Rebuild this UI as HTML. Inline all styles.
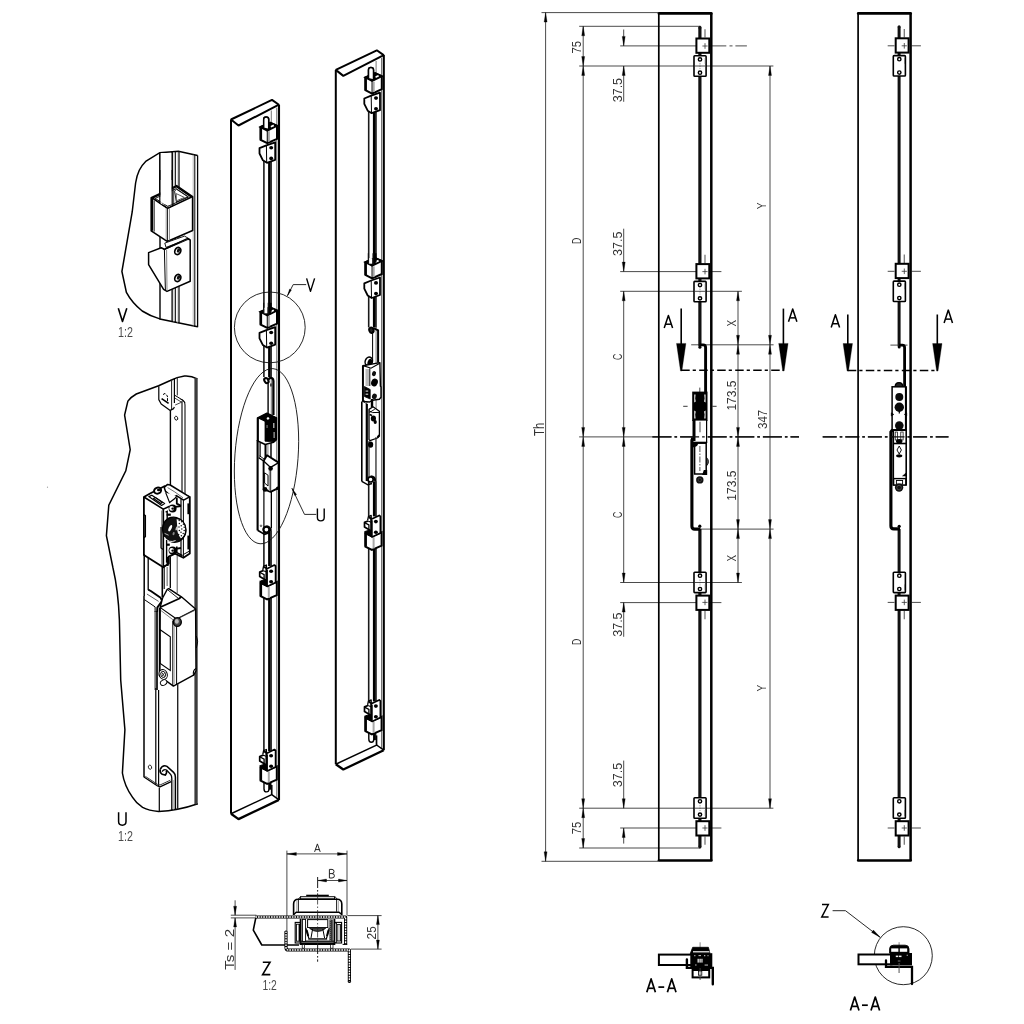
<!DOCTYPE html>
<html><head><meta charset="utf-8"><title>drawing</title>
<style>
html,body{margin:0;padding:0;background:#fff;}
svg{display:block;font-family:"Liberation Sans",sans-serif;filter:grayscale(1);}
</style></head><body>
<svg width="1024" height="1024" viewBox="0 0 1024 1024" stroke-linecap="butt" stroke-linejoin="miter">
<rect x="0" y="0" width="1024" height="1024" fill="#fff" stroke="none"/>
<line x1="541.5" y1="12.6" x2="658" y2="12.6" stroke="#2a2a2a" stroke-width="0.85" />
<line x1="541.5" y1="861.3" x2="658" y2="861.3" stroke="#2a2a2a" stroke-width="0.85" />
<line x1="545.6" y1="12.6" x2="545.6" y2="861.3" stroke="#2a2a2a" stroke-width="0.85" />
<path d="M545.6 12.6 L544.1 22.1 L547.1 22.1 Z" stroke="#000" stroke-width="0.3" fill="#000" />
<path d="M545.6 861.3 L544.1 851.8 L547.1 851.8 Z" stroke="#000" stroke-width="0.3" fill="#000" />
<text x="543.7" y="436" font-size="13.8" fill="#333" text-anchor="start" font-weight="normal" textLength="13.2" lengthAdjust="spacingAndGlyphs" transform="rotate(-90 543.7 436)">Th</text>
<line x1="579.2" y1="26.3" x2="700.5" y2="26.3" stroke="#2a2a2a" stroke-width="0.85" />
<line x1="579.2" y1="848" x2="700.5" y2="848" stroke="#2a2a2a" stroke-width="0.85" />
<line x1="579.2" y1="66" x2="773.4" y2="66" stroke="#2a2a2a" stroke-width="0.85" />
<line x1="579.2" y1="808.2" x2="773.4" y2="808.2" stroke="#2a2a2a" stroke-width="0.85" />
<line x1="583.2" y1="26.3" x2="583.2" y2="848" stroke="#2a2a2a" stroke-width="0.85" />
<path d="M583.2 26.3 L581.7 35.8 L584.7 35.8 Z" stroke="#000" stroke-width="0.3" fill="#000" />
<path d="M583.2 66 L581.7 56.5 L584.7 56.5 Z" stroke="#000" stroke-width="0.3" fill="#000" />
<path d="M583.2 66 L581.7 75.5 L584.7 75.5 Z" stroke="#000" stroke-width="0.3" fill="#000" />
<path d="M583.2 436.9 L581.7 427.4 L584.7 427.4 Z" stroke="#000" stroke-width="0.3" fill="#000" />
<path d="M583.2 436.9 L581.7 446.4 L584.7 446.4 Z" stroke="#000" stroke-width="0.3" fill="#000" />
<path d="M583.2 808.2 L581.7 798.7 L584.7 798.7 Z" stroke="#000" stroke-width="0.3" fill="#000" />
<path d="M583.2 808.2 L581.7 817.7 L584.7 817.7 Z" stroke="#000" stroke-width="0.3" fill="#000" />
<path d="M583.2 848 L581.7 838.5 L584.7 838.5 Z" stroke="#000" stroke-width="0.3" fill="#000" />
<text x="580.6" y="53.6" font-size="13.6" fill="#333" text-anchor="start" font-weight="normal" textLength="12.6" lengthAdjust="spacingAndGlyphs" transform="rotate(-90 580.6 53.6)">75</text>
<text x="580.6" y="834.2" font-size="13.6" fill="#333" text-anchor="start" font-weight="normal" textLength="12.6" lengthAdjust="spacingAndGlyphs" transform="rotate(-90 580.6 834.2)">75</text>
<text x="580.6" y="243.9" font-size="13.6" fill="#333" text-anchor="start" font-weight="normal" textLength="6.3" lengthAdjust="spacingAndGlyphs" transform="rotate(-90 580.6 243.9)">D</text>
<text x="580.6" y="645" font-size="13.6" fill="#333" text-anchor="start" font-weight="normal" textLength="6.3" lengthAdjust="spacingAndGlyphs" transform="rotate(-90 580.6 645)">D</text>
<line x1="579.1" y1="436.9" x2="653" y2="436.9" stroke="#2a2a2a" stroke-width="0.85" />
<line x1="623.7" y1="29.5" x2="623.7" y2="45.9" stroke="#2a2a2a" stroke-width="0.85" />
<path d="M623.7 45.9 L622.2 36.4 L625.2 36.4 Z" stroke="#000" stroke-width="0.3" fill="#000" />
<line x1="623.7" y1="66" x2="623.7" y2="101.8" stroke="#2a2a2a" stroke-width="0.85" />
<path d="M623.7 66 L622.2 75.5 L625.2 75.5 Z" stroke="#000" stroke-width="0.3" fill="#000" />
<line x1="620.2" y1="45.9" x2="726.3" y2="45.9" stroke="#2a2a2a" stroke-width="0.85" />
<line x1="729.5" y1="45.9" x2="732.5" y2="45.9" stroke="#2a2a2a" stroke-width="0.85" />
<line x1="735.4" y1="45.9" x2="746.9" y2="45.9" stroke="#2a2a2a" stroke-width="0.85" />
<text x="621.6" y="102.3" font-size="13.6" fill="#333" text-anchor="start" font-weight="normal" textLength="24.4" lengthAdjust="spacingAndGlyphs" transform="rotate(-90 621.6 102.3)">37.5</text>
<line x1="623.7" y1="228.7" x2="623.7" y2="271.6" stroke="#2a2a2a" stroke-width="0.85" />
<path d="M623.7 271.6 L622.2 262.1 L625.2 262.1 Z" stroke="#000" stroke-width="0.3" fill="#000" />
<line x1="620.2" y1="271.6" x2="721.4" y2="271.6" stroke="#2a2a2a" stroke-width="0.85" />
<line x1="620.2" y1="291.3" x2="741.9" y2="291.3" stroke="#2a2a2a" stroke-width="0.85" />
<text x="621.6" y="256" font-size="13.6" fill="#333" text-anchor="start" font-weight="normal" textLength="24.4" lengthAdjust="spacingAndGlyphs" transform="rotate(-90 621.6 256)">37.5</text>
<line x1="623.7" y1="291.3" x2="623.7" y2="582.5" stroke="#2a2a2a" stroke-width="0.85" />
<path d="M623.7 291.3 L622.2 300.8 L625.2 300.8 Z" stroke="#000" stroke-width="0.3" fill="#000" />
<path d="M623.7 436.9 L622.2 427.4 L625.2 427.4 Z" stroke="#000" stroke-width="0.3" fill="#000" />
<path d="M623.7 436.9 L622.2 446.4 L625.2 446.4 Z" stroke="#000" stroke-width="0.3" fill="#000" />
<path d="M623.7 582.5 L622.2 573 L625.2 573 Z" stroke="#000" stroke-width="0.3" fill="#000" />
<text x="621.6" y="360.1" font-size="13.6" fill="#333" text-anchor="start" font-weight="normal" textLength="6.3" lengthAdjust="spacingAndGlyphs" transform="rotate(-90 621.6 360.1)">C</text>
<text x="621.6" y="517.9" font-size="13.6" fill="#333" text-anchor="start" font-weight="normal" textLength="6.3" lengthAdjust="spacingAndGlyphs" transform="rotate(-90 621.6 517.9)">C</text>
<line x1="620.2" y1="582.5" x2="741.9" y2="582.5" stroke="#2a2a2a" stroke-width="0.85" />
<line x1="620.2" y1="602.6" x2="721.4" y2="602.6" stroke="#2a2a2a" stroke-width="0.85" />
<line x1="623.7" y1="602.6" x2="623.7" y2="636.8" stroke="#2a2a2a" stroke-width="0.85" />
<path d="M623.7 602.6 L622.2 612.1 L625.2 612.1 Z" stroke="#000" stroke-width="0.3" fill="#000" />
<text x="621.6" y="636.8" font-size="13.6" fill="#333" text-anchor="start" font-weight="normal" textLength="24.4" lengthAdjust="spacingAndGlyphs" transform="rotate(-90 621.6 636.8)">37.5</text>
<line x1="623.7" y1="760.6" x2="623.7" y2="808.2" stroke="#2a2a2a" stroke-width="0.85" />
<path d="M623.7 808.2 L622.2 798.7 L625.2 798.7 Z" stroke="#000" stroke-width="0.3" fill="#000" />
<line x1="623.7" y1="828" x2="623.7" y2="843.6" stroke="#2a2a2a" stroke-width="0.85" />
<path d="M623.7 828 L622.2 837.5 L625.2 837.5 Z" stroke="#000" stroke-width="0.3" fill="#000" />
<line x1="620.2" y1="828" x2="721.4" y2="828" stroke="#2a2a2a" stroke-width="0.85" />
<text x="621.6" y="787.2" font-size="13.6" fill="#333" text-anchor="start" font-weight="normal" textLength="24.4" lengthAdjust="spacingAndGlyphs" transform="rotate(-90 621.6 787.2)">37.5</text>
<line x1="691.2" y1="344.8" x2="773.6" y2="344.8" stroke="#2a2a2a" stroke-width="0.85" />
<line x1="701" y1="529.1" x2="773.6" y2="529.1" stroke="#2a2a2a" stroke-width="0.85" />
<line x1="738" y1="291.3" x2="738" y2="582.5" stroke="#2a2a2a" stroke-width="0.85" />
<path d="M738 291.3 L736.5 300.8 L739.5 300.8 Z" stroke="#000" stroke-width="0.3" fill="#000" />
<path d="M738 436.9 L736.5 446.4 L739.5 446.4 Z" stroke="#000" stroke-width="0.3" fill="#000" />
<path d="M738 529.1 L736.5 538.6 L739.5 538.6 Z" stroke="#000" stroke-width="0.3" fill="#000" />
<path d="M738 344.8 L736.5 335.3 L739.5 335.3 Z" stroke="#000" stroke-width="0.3" fill="#000" />
<path d="M738 436.9 L736.5 427.4 L739.5 427.4 Z" stroke="#000" stroke-width="0.3" fill="#000" />
<path d="M738 582.5 L736.5 573 L739.5 573 Z" stroke="#000" stroke-width="0.3" fill="#000" />
<path d="M738 344.8 L736.5 354.3 L739.5 354.3 Z" stroke="#000" stroke-width="0.3" fill="#000" />
<path d="M738 529.1 L736.5 519.6 L739.5 519.6 Z" stroke="#000" stroke-width="0.3" fill="#000" />
<text x="735.6" y="326.4" font-size="13.6" fill="#333" text-anchor="start" font-weight="normal" textLength="6.6" lengthAdjust="spacingAndGlyphs" transform="rotate(-90 735.6 326.4)">X</text>
<text x="735.6" y="561.4" font-size="13.6" fill="#333" text-anchor="start" font-weight="normal" textLength="6.6" lengthAdjust="spacingAndGlyphs" transform="rotate(-90 735.6 561.4)">X</text>
<text x="735.6" y="410.6" font-size="13.6" fill="#333" text-anchor="start" font-weight="normal" textLength="30.2" lengthAdjust="spacingAndGlyphs" transform="rotate(-90 735.6 410.6)">173.5</text>
<text x="735.6" y="500.7" font-size="13.6" fill="#333" text-anchor="start" font-weight="normal" textLength="30.2" lengthAdjust="spacingAndGlyphs" transform="rotate(-90 735.6 500.7)">173.5</text>
<line x1="770" y1="66" x2="770" y2="808.2" stroke="#2a2a2a" stroke-width="0.85" />
<path d="M770 66 L768.5 75.5 L771.5 75.5 Z" stroke="#000" stroke-width="0.3" fill="#000" />
<path d="M770 344.8 L768.5 335.3 L771.5 335.3 Z" stroke="#000" stroke-width="0.3" fill="#000" />
<path d="M770 344.8 L768.5 354.3 L771.5 354.3 Z" stroke="#000" stroke-width="0.3" fill="#000" />
<path d="M770 529.1 L768.5 519.6 L771.5 519.6 Z" stroke="#000" stroke-width="0.3" fill="#000" />
<path d="M770 529.1 L768.5 538.6 L771.5 538.6 Z" stroke="#000" stroke-width="0.3" fill="#000" />
<path d="M770 808.2 L768.5 798.7 L771.5 798.7 Z" stroke="#000" stroke-width="0.3" fill="#000" />
<text x="766.5" y="209.2" font-size="13.6" fill="#333" text-anchor="start" font-weight="normal" textLength="6.8" lengthAdjust="spacingAndGlyphs" transform="rotate(-90 766.5 209.2)">Y</text>
<text x="766.5" y="691.4" font-size="13.6" fill="#333" text-anchor="start" font-weight="normal" textLength="6.8" lengthAdjust="spacingAndGlyphs" transform="rotate(-90 766.5 691.4)">Y</text>
<text x="767.2" y="429" font-size="13.6" fill="#333" text-anchor="start" font-weight="normal" textLength="19.2" lengthAdjust="spacingAndGlyphs" transform="rotate(-90 767.2 429)">347</text>
<line x1="652.5" y1="436.9" x2="799" y2="436.9" stroke="#111" stroke-width="1.35" stroke-dasharray="19 3 2.6 3"/>
<line x1="681.2" y1="370.3" x2="783.5" y2="370.3" stroke="#000" stroke-width="1.5" stroke-dasharray="8.5 3 3.2 3.3"/>
<line x1="681.2" y1="308.6" x2="681.2" y2="350.6" stroke="#000" stroke-width="1.6" />
<path d="M676.5 343.4 L685.9 343.4 L681.9 371 L680.5 371 Z" stroke="#000" stroke-width="0.3" fill="#000" />
<line x1="783.4" y1="308.6" x2="783.4" y2="350.6" stroke="#000" stroke-width="1.6" />
<path d="M778.7 343.4 L788.1 343.4 L784.1 371 L782.7 371 Z" stroke="#000" stroke-width="0.3" fill="#000" />
<path d="M664.2 328 L668.4 315.4 L672.6 328" stroke="#000" stroke-width="1.5" fill="none" stroke-linejoin="round"/>
<line x1="665.88" y1="324.22" x2="670.92" y2="324.22" stroke="#000" stroke-width="1.5" />
<path d="M788.5 321.7 L792.7 308.9 L796.9 321.7" stroke="#000" stroke-width="1.5" fill="none" stroke-linejoin="round"/>
<line x1="790.18" y1="317.86" x2="795.22" y2="317.86" stroke="#000" stroke-width="1.5" />
<line x1="699.9" y1="27.4" x2="699.9" y2="346.5" stroke="#111" stroke-width="3.2" />
<circle cx="699.9" cy="27.4" r="1.6" stroke="none" stroke-width="0" fill="#111"/>
<line x1="699.9" y1="529" x2="699.9" y2="846.8" stroke="#111" stroke-width="3.2" />
<circle cx="699.9" cy="846.8" r="1.6" stroke="none" stroke-width="0" fill="#111"/>
<circle cx="699.9" cy="347.3" r="1.5" stroke="none" stroke-width="0" fill="#000"/>
<path d="M699.6 344.9 L703.2 344.9 Q705.6 344.9 705.6 347.5 L705.6 392" stroke="#000" stroke-width="2.9" fill="none" />
<line x1="705" y1="29.2" x2="705" y2="37.6" stroke="#777" stroke-width="1.3" />
<rect x="696.4" y="38.5" width="12.9" height="14.3" rx="0" stroke="#000" stroke-width="2.0" fill="#fff"/>
<line x1="702.4" y1="46" x2="707.6" y2="46" stroke="#333" stroke-width="0.8" />
<line x1="705" y1="43.2" x2="705" y2="48.8" stroke="#333" stroke-width="0.8" />
<rect x="694" y="55.8" width="12.1" height="20.4" rx="0.8" stroke="#000" stroke-width="1.6" fill="#fff"/>
<line x1="705.2" y1="58" x2="705.2" y2="64" stroke="#666" stroke-width="0.7" />
<line x1="700" y1="63" x2="700" y2="69" stroke="#777" stroke-width="0.7" stroke-dasharray="1.5 1"/>
<circle cx="700" cy="59.4" r="1.65" stroke="#000" stroke-width="1.45" fill="none"/>
<circle cx="700" cy="72.7" r="1.65" stroke="#000" stroke-width="1.45" fill="none"/>
<line x1="705" y1="254.8" x2="705" y2="263.2" stroke="#777" stroke-width="1.3" />
<rect x="696.4" y="264.1" width="12.9" height="14.3" rx="0" stroke="#000" stroke-width="2.0" fill="#fff"/>
<line x1="702.4" y1="271.6" x2="707.6" y2="271.6" stroke="#333" stroke-width="0.8" />
<line x1="705" y1="268.8" x2="705" y2="274.4" stroke="#333" stroke-width="0.8" />
<rect x="694" y="281.4" width="12.1" height="20.4" rx="0.8" stroke="#000" stroke-width="1.6" fill="#fff"/>
<line x1="705.2" y1="283.6" x2="705.2" y2="289.6" stroke="#666" stroke-width="0.7" />
<line x1="700" y1="288.6" x2="700" y2="294.6" stroke="#777" stroke-width="0.7" stroke-dasharray="1.5 1"/>
<circle cx="700" cy="285" r="1.65" stroke="#000" stroke-width="1.45" fill="none"/>
<circle cx="700" cy="298.3" r="1.65" stroke="#000" stroke-width="1.45" fill="none"/>
<line x1="705" y1="610.8" x2="705" y2="619.2" stroke="#777" stroke-width="1.3" />
<rect x="696.4" y="595.6" width="12.9" height="14.3" rx="0" stroke="#000" stroke-width="2.0" fill="#fff"/>
<line x1="702.4" y1="602.4" x2="707.6" y2="602.4" stroke="#333" stroke-width="0.8" />
<line x1="705" y1="599.6" x2="705" y2="605.2" stroke="#333" stroke-width="0.8" />
<rect x="694" y="572.2" width="12.1" height="20.4" rx="0.8" stroke="#000" stroke-width="1.6" fill="#fff"/>
<line x1="705.2" y1="584.4" x2="705.2" y2="590.4" stroke="#666" stroke-width="0.7" />
<line x1="700" y1="579.4" x2="700" y2="585.4" stroke="#777" stroke-width="0.7" stroke-dasharray="1.5 1"/>
<circle cx="700" cy="589" r="1.65" stroke="#000" stroke-width="1.45" fill="none"/>
<circle cx="700" cy="575.7" r="1.65" stroke="#000" stroke-width="1.45" fill="none"/>
<line x1="705" y1="836.4" x2="705" y2="844.8" stroke="#777" stroke-width="1.3" />
<rect x="696.4" y="821.2" width="12.9" height="14.3" rx="0" stroke="#000" stroke-width="2.0" fill="#fff"/>
<line x1="702.4" y1="828" x2="707.6" y2="828" stroke="#333" stroke-width="0.8" />
<line x1="705" y1="825.2" x2="705" y2="830.8" stroke="#333" stroke-width="0.8" />
<rect x="694" y="797.8" width="12.1" height="20.4" rx="0.8" stroke="#000" stroke-width="1.6" fill="#fff"/>
<line x1="705.2" y1="810" x2="705.2" y2="816" stroke="#666" stroke-width="0.7" />
<line x1="700" y1="805" x2="700" y2="811" stroke="#777" stroke-width="0.7" stroke-dasharray="1.5 1"/>
<circle cx="700" cy="814.6" r="1.65" stroke="#000" stroke-width="1.45" fill="none"/>
<circle cx="700" cy="801.3" r="1.65" stroke="#000" stroke-width="1.45" fill="none"/>
<line x1="694.8" y1="66" x2="705.4" y2="66" stroke="#2a2a2a" stroke-width="0.85" />
<line x1="694.8" y1="291.3" x2="705.4" y2="291.3" stroke="#2a2a2a" stroke-width="0.85" />
<line x1="694.8" y1="582.5" x2="705.4" y2="582.5" stroke="#2a2a2a" stroke-width="0.85" />
<line x1="694.8" y1="808.2" x2="705.4" y2="808.2" stroke="#2a2a2a" stroke-width="0.85" />
<line x1="699.8" y1="387.6" x2="699.8" y2="392" stroke="#333" stroke-width="0.9" />
<line x1="683.2" y1="406.3" x2="687.6" y2="406.3" stroke="#222" stroke-width="0.9" />
<line x1="712.4" y1="406.3" x2="716.6" y2="406.3" stroke="#222" stroke-width="0.9" />
<rect x="692.2" y="391.6" width="15.3" height="29.4" rx="0" stroke="none" stroke-width="0" fill="#000"/>
<path d="M694.2 394.6 L695.6 394.6 L695.2 398.5 L695.8 401.4 L694.2 402.6 Z" stroke="none" stroke-width="0" fill="#e4e4e4" />
<path d="M705.6 394.6 L704.2 394.6 L704.6 398.5 L704 401.4 L705.6 402.6 Z" stroke="none" stroke-width="0" fill="#e4e4e4" />
<path d="M694.2 418.6 L695.6 418.6 L695.2 414.6 L695.8 411.6 L694.2 410.4 Z" stroke="none" stroke-width="0" fill="#e4e4e4" />
<path d="M705.6 418.6 L704.2 418.6 L704.6 414.6 L704 411.6 L705.6 410.4 Z" stroke="none" stroke-width="0" fill="#e4e4e4" />
<rect x="693.9" y="420.6" width="12.7" height="21.6" rx="0" stroke="none" stroke-width="0" fill="#fff"/>
<line x1="694" y1="420" x2="694" y2="441" stroke="#000" stroke-width="3.0" />
<line x1="706.6" y1="420" x2="706.6" y2="442.4" stroke="#000" stroke-width="1.2" />
<line x1="693" y1="442.4" x2="707.2" y2="442.4" stroke="#000" stroke-width="1.4" />
<line x1="700" y1="421.8" x2="700" y2="432.2" stroke="#555" stroke-width="1.1" />
<path d="M693.0 437.6 L691.9 440.4 L691.9 526.2 Q691.9 529.1 694.8 529.1 L700.6 529.1" stroke="#000" stroke-width="3.1" fill="none" />
<rect x="694.6" y="443.2" width="11.6" height="30.8" rx="0" stroke="#000" stroke-width="1.5" fill="#fff"/>
<path d="M693 442.6 h5.2 q0 4 -4 4.6 h-1.2z" stroke="none" stroke-width="0" fill="#000" />
<line x1="699.9" y1="446" x2="699.9" y2="471" stroke="#555" stroke-width="1.0" stroke-dasharray="6 1.5 1.5 1.5"/>
<path d="M706.6 457.6 Q710.4 461.7 706.6 465.8 Z" stroke="#000" stroke-width="0.8" fill="#555" />
<path d="M703.8 470 h3.4 v5 h-5z" stroke="none" stroke-width="0" fill="#000" />
<circle cx="699.8" cy="479.9" r="3.7" stroke="none" stroke-width="0" fill="#111"/>
<circle cx="699.8" cy="479.9" r="1.7" stroke="#555" stroke-width="0.6" fill="#111"/>
<circle cx="699.8" cy="526.2" r="1.6" stroke="none" stroke-width="0" fill="#000"/>
<line x1="652.5" y1="436.9" x2="799" y2="436.9" stroke="#111" stroke-width="1.35" stroke-dasharray="19 3 2.6 3"/>
<line x1="658.8" y1="13.4" x2="658.8" y2="860.5" stroke="#000" stroke-width="1.7" />
<line x1="711.3" y1="13.4" x2="711.3" y2="860.5" stroke="#000" stroke-width="2.5" />
<line x1="658.9" y1="13.4" x2="711.4" y2="13.4" stroke="#000" stroke-width="2.6" stroke-linecap="round"/>
<line x1="658.9" y1="860.5" x2="711.4" y2="860.5" stroke="#000" stroke-width="2.6" stroke-linecap="round"/>
<line x1="822.7" y1="436.9" x2="948.5" y2="436.9" stroke="#111" stroke-width="1.35" stroke-dasharray="14 3 2.6 3"/>
<line x1="847.8" y1="370.4" x2="937.3" y2="370.4" stroke="#000" stroke-width="1.5" stroke-dasharray="8.5 3 3.2 3.3"/>
<line x1="847.8" y1="314.5" x2="847.8" y2="350.7" stroke="#000" stroke-width="1.6" />
<path d="M843.1 343.5 L852.5 343.5 L848.5 371.1 L847.1 371.1 Z" stroke="#000" stroke-width="0.3" fill="#000" />
<line x1="937.3" y1="314.5" x2="937.3" y2="350.7" stroke="#000" stroke-width="1.6" />
<path d="M932.6 343.5 L942 343.5 L938 371.1 L936.6 371.1 Z" stroke="#000" stroke-width="0.3" fill="#000" />
<path d="M831.2 327.6 L835.4 314.7 L839.6 327.6" stroke="#000" stroke-width="1.5" fill="none" stroke-linejoin="round"/>
<line x1="832.88" y1="323.73" x2="837.92" y2="323.73" stroke="#000" stroke-width="1.5" />
<path d="M944.1 323 L948.3 310.1 L952.5 323" stroke="#000" stroke-width="1.5" fill="none" stroke-linejoin="round"/>
<line x1="945.78" y1="319.13" x2="950.82" y2="319.13" stroke="#000" stroke-width="1.5" />
<line x1="899.1" y1="26.8" x2="899.1" y2="346.5" stroke="#111" stroke-width="3.0" />
<circle cx="899.1" cy="26.8" r="1.5" stroke="none" stroke-width="0" fill="#111"/>
<line x1="899.1" y1="529" x2="899.1" y2="846.8" stroke="#111" stroke-width="3.0" />
<circle cx="899.1" cy="846.8" r="1.5" stroke="none" stroke-width="0" fill="#111"/>
<circle cx="899.2" cy="347" r="1.5" stroke="none" stroke-width="0" fill="#000"/>
<line x1="890.4" y1="345.1" x2="907.5" y2="345.1" stroke="#2a2a2a" stroke-width="0.85" />
<path d="M898.9000000000001 345.1 L902.3 345.1 Q904.5999999999999 345.1 904.5999999999999 347.7 L904.5999999999999 386.5" stroke="#000" stroke-width="2.8" fill="none" />
<line x1="904.3" y1="29" x2="904.3" y2="37.4" stroke="#777" stroke-width="1.3" />
<rect x="895.7" y="38.3" width="12.9" height="14.3" rx="0" stroke="#000" stroke-width="2.0" fill="#fff"/>
<line x1="901.7" y1="45.8" x2="906.9" y2="45.8" stroke="#333" stroke-width="0.8" />
<line x1="904.3" y1="43" x2="904.3" y2="48.6" stroke="#333" stroke-width="0.8" />
<rect x="893.3" y="55.6" width="12.1" height="20.4" rx="0.8" stroke="#000" stroke-width="1.6" fill="#fff"/>
<line x1="904.5" y1="57.8" x2="904.5" y2="63.8" stroke="#666" stroke-width="0.7" />
<circle cx="899.3" cy="59.2" r="1.65" stroke="#000" stroke-width="1.45" fill="none"/>
<circle cx="899.3" cy="72.5" r="1.65" stroke="#000" stroke-width="1.45" fill="none"/>
<line x1="887.7" y1="45.8" x2="894.5" y2="45.8" stroke="#2a2a2a" stroke-width="0.85" />
<line x1="911.6" y1="45.8" x2="920.9" y2="45.8" stroke="#2a2a2a" stroke-width="0.85" />
<line x1="904.3" y1="254.5" x2="904.3" y2="262.9" stroke="#777" stroke-width="1.3" />
<rect x="895.7" y="263.8" width="12.9" height="14.3" rx="0" stroke="#000" stroke-width="2.0" fill="#fff"/>
<line x1="901.7" y1="271.3" x2="906.9" y2="271.3" stroke="#333" stroke-width="0.8" />
<line x1="904.3" y1="268.5" x2="904.3" y2="274.1" stroke="#333" stroke-width="0.8" />
<rect x="893.3" y="281.1" width="12.1" height="20.4" rx="0.8" stroke="#000" stroke-width="1.6" fill="#fff"/>
<line x1="904.5" y1="283.3" x2="904.5" y2="289.3" stroke="#666" stroke-width="0.7" />
<circle cx="899.3" cy="284.7" r="1.65" stroke="#000" stroke-width="1.45" fill="none"/>
<circle cx="899.3" cy="298" r="1.65" stroke="#000" stroke-width="1.45" fill="none"/>
<line x1="887.7" y1="271.3" x2="894.5" y2="271.3" stroke="#2a2a2a" stroke-width="0.85" />
<line x1="911.6" y1="271.3" x2="920.9" y2="271.3" stroke="#2a2a2a" stroke-width="0.85" />
<line x1="904.3" y1="610.8" x2="904.3" y2="619.2" stroke="#777" stroke-width="1.3" />
<rect x="895.7" y="595.6" width="12.9" height="14.3" rx="0" stroke="#000" stroke-width="2.0" fill="#fff"/>
<line x1="901.7" y1="602.4" x2="906.9" y2="602.4" stroke="#333" stroke-width="0.8" />
<line x1="904.3" y1="599.6" x2="904.3" y2="605.2" stroke="#333" stroke-width="0.8" />
<rect x="893.3" y="572.2" width="12.1" height="20.4" rx="0.8" stroke="#000" stroke-width="1.6" fill="#fff"/>
<line x1="904.5" y1="584.4" x2="904.5" y2="590.4" stroke="#666" stroke-width="0.7" />
<circle cx="899.3" cy="589" r="1.65" stroke="#000" stroke-width="1.45" fill="none"/>
<circle cx="899.3" cy="575.7" r="1.65" stroke="#000" stroke-width="1.45" fill="none"/>
<line x1="887.7" y1="602.4" x2="894.5" y2="602.4" stroke="#2a2a2a" stroke-width="0.85" />
<line x1="911.6" y1="602.4" x2="920.9" y2="602.4" stroke="#2a2a2a" stroke-width="0.85" />
<line x1="904.3" y1="836.4" x2="904.3" y2="844.8" stroke="#777" stroke-width="1.3" />
<rect x="895.7" y="821.2" width="12.9" height="14.3" rx="0" stroke="#000" stroke-width="2.0" fill="#fff"/>
<line x1="901.7" y1="828" x2="906.9" y2="828" stroke="#333" stroke-width="0.8" />
<line x1="904.3" y1="825.2" x2="904.3" y2="830.8" stroke="#333" stroke-width="0.8" />
<rect x="893.3" y="797.8" width="12.1" height="20.4" rx="0.8" stroke="#000" stroke-width="1.6" fill="#fff"/>
<line x1="904.5" y1="810" x2="904.5" y2="816" stroke="#666" stroke-width="0.7" />
<circle cx="899.3" cy="814.6" r="1.65" stroke="#000" stroke-width="1.45" fill="none"/>
<circle cx="899.3" cy="801.3" r="1.65" stroke="#000" stroke-width="1.45" fill="none"/>
<line x1="887.7" y1="828" x2="894.5" y2="828" stroke="#2a2a2a" stroke-width="0.85" />
<line x1="911.6" y1="828" x2="920.9" y2="828" stroke="#2a2a2a" stroke-width="0.85" />
<path d="M895.2 386.8 Q895.2 382.6 899 382.6 Q902.8 382.6 902.8 386.8" stroke="#000" stroke-width="1.4" fill="#222" />
<rect x="892.1" y="386.8" width="13.9" height="43" rx="0" stroke="#000" stroke-width="1.5" fill="#fff"/>
<line x1="905.9" y1="386.8" x2="905.9" y2="430" stroke="#000" stroke-width="2.0" />
<circle cx="899.3" cy="396.9" r="4" stroke="none" stroke-width="0" fill="#0a0a0a"/>
<circle cx="899.3" cy="407.3" r="4.7" stroke="none" stroke-width="0" fill="#0a0a0a"/>
<line x1="899.3" y1="411" x2="899.3" y2="413.6" stroke="#000" stroke-width="1.2" />
<path d="M891.3 412.8 L893.8 414.4 L891.3 416 Z" stroke="#000" stroke-width="0.6" fill="#000" />
<path d="M906.7 412.8 L904.4 414.4 L906.7 416 Z" stroke="#000" stroke-width="0.6" fill="#000" />
<circle cx="899.3" cy="425.6" r="4.3" stroke="none" stroke-width="0" fill="#0a0a0a"/>
<path d="M892.6 429.7 L890.9 432.0 L890.9 526 Q890.9 528.9 893.8 528.9 L900 528.9" stroke="#000" stroke-width="3.1" fill="none" />
<rect x="893.3" y="430.2" width="12.9" height="54.6" rx="0" stroke="#000" stroke-width="1.6" fill="#fff"/>
<line x1="893" y1="443.5" x2="906" y2="443.5" stroke="#000" stroke-width="1.6" />
<rect x="895.2" y="432" width="2.3" height="8" rx="0" stroke="#000" stroke-width="0.7" fill="#fff"/>
<rect x="900.8" y="432" width="2.3" height="8" rx="0" stroke="#000" stroke-width="0.7" fill="#fff"/>
<ellipse cx="899.2" cy="441.2" rx="3.2" ry="2.3" stroke="none" stroke-width="0" fill="#000" transform="rotate(0 899.2 441.2)"/>
<path d="M899.2 446 L901.4 450 L899.2 454 L897 450 Z" stroke="#000" stroke-width="0.9" fill="#fff" />
<ellipse cx="899.2" cy="455.8" rx="3.1" ry="1.6" stroke="none" stroke-width="0" fill="#000" transform="rotate(0 899.2 455.8)"/>
<path d="M906 473 L902.5 476 L906 476 Z" stroke="#000" stroke-width="0.5" fill="#000" />
<rect x="893.6" y="478.6" width="12.2" height="6.4" rx="0" stroke="#000" stroke-width="1.4" fill="#fff"/>
<rect x="896.4" y="480.5" width="6.2" height="3.6" rx="0" stroke="#000" stroke-width="0.9" fill="#fff"/>
<circle cx="899.1" cy="487.6" r="4.2" stroke="none" stroke-width="0" fill="#111"/>
<circle cx="899.1" cy="487.6" r="2.3" stroke="#555" stroke-width="0.8" fill="#111"/>
<circle cx="899.2" cy="526.3" r="1.6" stroke="none" stroke-width="0" fill="#000"/>
<line x1="822.7" y1="436.9" x2="948.5" y2="436.9" stroke="#111" stroke-width="1.35" stroke-dasharray="14 3 2.6 3"/>
<line x1="858.1" y1="13.4" x2="858.1" y2="860.5" stroke="#000" stroke-width="1.7" />
<line x1="910.6" y1="13.4" x2="910.6" y2="860.5" stroke="#000" stroke-width="2.5" />
<line x1="858.2" y1="13.4" x2="910.7" y2="13.4" stroke="#000" stroke-width="2.6" stroke-linecap="round"/>
<line x1="858.2" y1="860.5" x2="910.7" y2="860.5" stroke="#000" stroke-width="2.6" stroke-linecap="round"/>
<line x1="700.1" y1="942.3" x2="700.1" y2="979.8" stroke="#555" stroke-width="0.7" />
<rect x="658.9" y="954.6" width="34" height="10.4" rx="0" stroke="#000" stroke-width="2.0" fill="#fff"/>
<path d="M690.3 953.5 L692.7 947.3 L708.4 947.3 L710 953.5 Z" stroke="#000" stroke-width="0.8" fill="#000" />
<line x1="693" y1="951.8" x2="709.4" y2="951.8" stroke="#fff" stroke-width="1.2" />
<rect x="690.3" y="953.2" width="22" height="15.8" rx="0" stroke="none" stroke-width="0" fill="#000"/>
<rect x="697.5" y="958.8" width="1.4" height="3.8" rx="0" stroke="none" stroke-width="0" fill="#ddd"/>
<rect x="699.4" y="958.8" width="1.4" height="3.8" rx="0" stroke="none" stroke-width="0" fill="#ddd"/>
<rect x="701.3" y="958.8" width="1.3" height="3.8" rx="0" stroke="none" stroke-width="0" fill="#ddd"/>
<rect x="694.2" y="955.2" width="1.2" height="1" rx="0" stroke="none" stroke-width="0" fill="#ddd"/>
<rect x="698.5" y="955.2" width="2.5" height="0.9" rx="0" stroke="none" stroke-width="0" fill="#ddd"/>
<rect x="704" y="955.2" width="1.3" height="1" rx="0" stroke="none" stroke-width="0" fill="#ddd"/>
<rect x="707.5" y="955.2" width="1" height="1" rx="0" stroke="none" stroke-width="0" fill="#ddd"/>
<rect x="695" y="964.6" width="1.6" height="0.8" rx="0" stroke="none" stroke-width="0" fill="#ddd"/>
<rect x="704.6" y="964.6" width="3.4" height="0.9" rx="0" stroke="none" stroke-width="0" fill="#ddd"/>
<path d="M686.9 959.4 L686.9 967.9 L712.8 967.9 L712.8 984.2" stroke="#000" stroke-width="2.4" fill="none" stroke-linecap="round"/>
<rect x="692.6" y="970" width="16.6" height="7.4" rx="0" stroke="#000" stroke-width="2.0" fill="#fff"/>
<rect x="698.6" y="971" width="3.2" height="4.2" rx="0" stroke="#000" stroke-width="0.8" fill="#fff"/>
<line x1="700.1" y1="968" x2="700.1" y2="979.8" stroke="#555" stroke-width="0.7" />
<path d="M646.8 992.3 L651.1 978.9 L655.4 992.3" stroke="#000" stroke-width="1.7" fill="none" stroke-linejoin="round"/>
<line x1="648.52" y1="988.28" x2="653.68" y2="988.28" stroke="#000" stroke-width="1.7" />
<line x1="658.4" y1="987.1" x2="664.2" y2="987.1" stroke="#000" stroke-width="1.7" />
<path d="M667.4 992.3 L671.7 978.9 L676 992.3" stroke="#000" stroke-width="1.7" fill="none" stroke-linejoin="round"/>
<line x1="669.12" y1="988.28" x2="674.28" y2="988.28" stroke="#000" stroke-width="1.7" />
<circle cx="903.3" cy="955.7" r="29" stroke="#111" stroke-width="0.9" fill="none"/>
<line x1="899.1" y1="942.2" x2="899.1" y2="973" stroke="#555" stroke-width="0.7" />
<rect x="858.5" y="954.5" width="33" height="9.8" rx="0" stroke="#000" stroke-width="2.0" fill="#fff"/>
<path d="M889.6 953.2 L889.6 948.9 Q889.6 945.2 893.4 945.2 L905.2 945.2 Q909 945.2 909 948.9 L909 953.2 Z" stroke="#000" stroke-width="0.9" fill="#000" />
<rect x="891.2" y="948.4" width="7.2" height="3.4" rx="0" stroke="none" stroke-width="0" fill="#fff"/>
<rect x="899.8" y="948.4" width="7.4" height="3.4" rx="0" stroke="none" stroke-width="0" fill="#fff"/>
<rect x="890" y="953" width="22" height="12.4" rx="0" stroke="none" stroke-width="0" fill="#000"/>
<rect x="895.8" y="955.6" width="2.4" height="1.5" rx="0" stroke="none" stroke-width="0" fill="#eee"/>
<rect x="898.9" y="955.6" width="2.6" height="1.5" rx="0" stroke="none" stroke-width="0" fill="#eee"/>
<rect x="897.8" y="960.6" width="2.6" height="0.8" rx="0" stroke="none" stroke-width="0" fill="#999"/>
<rect x="906.6" y="954.8" width="1.4" height="0.8" rx="0" stroke="none" stroke-width="0" fill="#ccc"/>
<path d="M886.0 960.3 L886.0 966.8 L912.0 966.8 L912.0 984" stroke="#000" stroke-width="2.3" fill="none" stroke-linecap="round"/>
<line x1="899.1" y1="963" x2="899.1" y2="973" stroke="#777" stroke-width="0.7" />
<path d="M850.4 1010.4 L854.7 997 L859 1010.4" stroke="#000" stroke-width="1.7" fill="none" stroke-linejoin="round"/>
<line x1="852.12" y1="1006.38" x2="857.28" y2="1006.38" stroke="#000" stroke-width="1.7" />
<line x1="862" y1="1005.2" x2="867.8" y2="1005.2" stroke="#000" stroke-width="1.7" />
<path d="M871 1010.4 L875.3 997 L879.6 1010.4" stroke="#000" stroke-width="1.7" fill="none" stroke-linejoin="round"/>
<line x1="872.72" y1="1006.38" x2="877.88" y2="1006.38" stroke="#000" stroke-width="1.7" />
<path d="M832.6 910.7 L845.5 910.7 L880 937.2" stroke="#111" stroke-width="0.9" fill="none" />
<path d="M880.4 937.4 L873.4 930.1 L871.6 932.5 Z" stroke="#000" stroke-width="0.3" fill="#000" />
<path d="M822 904.6 L828.3 904.6 L821.8 917 L828.6 917" stroke="#000" stroke-width="1.5" fill="none" stroke-linejoin="miter"/>
<g transform="translate(0 0)">
<line x1="271.3" y1="110.5" x2="271.3" y2="794" stroke="#555" stroke-width="0.8" />
<path d="M231 119.5 L231 813.8" stroke="#000" stroke-width="2.0" fill="none" />
<path d="M279 104.7 L279 799.9" stroke="#000" stroke-width="2.1" fill="none" />
<line x1="276.8" y1="107.6" x2="276.8" y2="798.2" stroke="#555" stroke-width="0.9" />
<path d="M231 119.5 L272 99.9 L278.9 104.7 L238.5 125.5 Z" stroke="#000" stroke-width="2.0" fill="#fff" stroke-linejoin="bevel"/>
<path d="M231 813.8 L238.5 819.1 L278.9 799.9" stroke="#000" stroke-width="2.3" fill="none" stroke-linejoin="bevel"/>
<path d="M231 813.8 L271.8 794.6 L278.3 799.3" stroke="#000" stroke-width="1.5" fill="none" />
<line x1="271.8" y1="794.6" x2="271.8" y2="785" stroke="#000" stroke-width="1.5" />
</g>
<g transform="translate(0 0)">
<line x1="263.9" y1="160" x2="263.9" y2="312" stroke="#1a1a1a" stroke-width="1.6" />
<line x1="271.1" y1="160" x2="271.1" y2="312" stroke="#333" stroke-width="1.8" />
<line x1="269.3" y1="160" x2="269.3" y2="312" stroke="#000" stroke-width="2.4" />
</g>
<g transform="translate(0 0)">
<line x1="263.9" y1="345" x2="263.9" y2="377" stroke="#1a1a1a" stroke-width="1.6" />
<line x1="271.1" y1="345" x2="271.1" y2="377" stroke="#333" stroke-width="1.8" />
<line x1="269.3" y1="345" x2="269.3" y2="377" stroke="#000" stroke-width="2.4" />
</g>
<g transform="translate(0 0)">
<line x1="263.9" y1="531" x2="263.9" y2="566" stroke="#1a1a1a" stroke-width="1.6" />
<line x1="271.1" y1="531" x2="271.1" y2="566" stroke="#333" stroke-width="1.8" />
<line x1="269.3" y1="531" x2="269.3" y2="566" stroke="#000" stroke-width="2.4" />
</g>
<g transform="translate(0 0)">
<line x1="263.9" y1="598" x2="263.9" y2="751" stroke="#1a1a1a" stroke-width="1.6" />
<line x1="271.1" y1="598" x2="271.1" y2="751" stroke="#333" stroke-width="1.8" />
<line x1="269.3" y1="598" x2="269.3" y2="751" stroke="#000" stroke-width="2.4" />
</g>
<g transform="translate(0 0)">
<path d="M263.7 128 L263.7 119.6 Q263.7 117.1 266.1 117.1 Q268.7 117.1 268.7 119.6 L268.7 129" stroke="#000" stroke-width="1.5" fill="#fff" />
<path d="M260.6 127 L270.3 122.8 L277 125.7 L277 138.8 L267.3 143.2 L260.6 139.8 Z" stroke="#000" stroke-width="2.0" fill="#fff" />
<path d="M260.9 127 L270.3 123 L276.6 125.8 L267.3 130.4 Z" stroke="#000" stroke-width="2.2" fill="#000" />
<path d="M270.6 125.9 L273.4 124.6 L274.2 126.2 L271 127.6 Z" stroke="none" stroke-width="0" fill="#fff" />
<path d="M263.7 128.3 L263.7 119.6 Q263.7 117.1 266.1 117.1 Q268.7 117.1 268.7 119.6 L268.7 129.6 Z" stroke="#000" stroke-width="1.5" fill="#fff" />
<line x1="260.9" y1="127" x2="260.9" y2="139.8" stroke="#000" stroke-width="2.4" />
<line x1="267.3" y1="130.4" x2="267.3" y2="143.2" stroke="#000" stroke-width="1.1" />
<line x1="268.9" y1="131.2" x2="268.9" y2="141.6" stroke="#a8a8a8" stroke-width="2.0" />
<path d="M259.5 148.1 L266.4 145.3 L275.2 142.3 L275.2 159.8 L266.9 162.8 L262.9 160.3 L259.5 153.5 Z" stroke="#000" stroke-width="1.8" fill="#fff" stroke-linejoin="round"/>
<line x1="266.4" y1="145.3" x2="266.7" y2="162.6" stroke="#000" stroke-width="1.0" />
<ellipse cx="271.2" cy="147.7" rx="2" ry="1.8" stroke="none" stroke-width="0" fill="#000" transform="rotate(0 271.2 147.7)"/>
<ellipse cx="271.2" cy="158.4" rx="2" ry="1.8" stroke="none" stroke-width="0" fill="#000" transform="rotate(0 271.2 158.4)"/>
</g>
<g transform="translate(0 184.8)">
<path d="M260.6 127 L270.3 122.8 L277 125.7 L277 138.8 L267.3 143.2 L260.6 139.8 Z" stroke="#000" stroke-width="2.0" fill="#fff" />
<path d="M260.9 127 L270.3 123 L276.6 125.8 L267.3 130.4 Z" stroke="#000" stroke-width="2.2" fill="#000" />
<path d="M270.6 125.9 L273.4 124.6 L274.2 126.2 L271 127.6 Z" stroke="none" stroke-width="0" fill="#fff" />
<rect x="264.3" y="123" width="3.2" height="5.5" rx="0" stroke="none" stroke-width="0" fill="#fff"/>
<line x1="263.6" y1="118" x2="263.6" y2="129" stroke="#111" stroke-width="1.2" />
<line x1="268.3" y1="118" x2="268.3" y2="129.5" stroke="#111" stroke-width="1.2" />
<line x1="270.7" y1="118" x2="270.7" y2="127" stroke="#000" stroke-width="2.0" />
<line x1="260.9" y1="127" x2="260.9" y2="139.8" stroke="#000" stroke-width="2.4" />
<line x1="267.3" y1="130.4" x2="267.3" y2="143.2" stroke="#000" stroke-width="1.1" />
<line x1="268.9" y1="131.2" x2="268.9" y2="141.6" stroke="#a8a8a8" stroke-width="2.0" />
<path d="M259.5 148.1 L266.4 145.3 L275.2 142.3 L275.2 159.8 L266.9 162.8 L262.9 160.3 L259.5 153.5 Z" stroke="#000" stroke-width="1.8" fill="#fff" stroke-linejoin="round"/>
<line x1="266.4" y1="145.3" x2="266.7" y2="162.6" stroke="#000" stroke-width="1.0" />
<ellipse cx="271.2" cy="147.7" rx="2" ry="1.8" stroke="none" stroke-width="0" fill="#000" transform="rotate(0 271.2 147.7)"/>
<ellipse cx="271.2" cy="158.4" rx="2" ry="1.8" stroke="none" stroke-width="0" fill="#000" transform="rotate(0 271.2 158.4)"/>
</g>
<g transform="translate(-104.8 49.6)">
<path d="M365.4 532.7 L371.9 536.4 L381.6 532.3 L381.6 545.6 L371.9 549.8 L365.4 546.6 Z" stroke="#000" stroke-width="2.0" fill="#fff" />
<line x1="365.7" y1="532.7" x2="365.7" y2="546.4" stroke="#000" stroke-width="2.4" />
<line x1="373.6" y1="537.3" x2="373.6" y2="548.4" stroke="#a8a8a8" stroke-width="2.0" />
<path d="M365.2 531.4 L371.2 529.6 L371.6 536.8 L365.2 533.8 Z" stroke="#000" stroke-width="1.0" fill="#000" />
<path d="M364.5 522.4 L368.6 520.8 L371.4 522.2 L371.4 530.4 L369.6 530 L364.5 527 Z" stroke="#000" stroke-width="1.7" fill="#fff" stroke-linejoin="round"/>
<path d="M364.5 522.6 L368.9 525 L368.9 529.6" stroke="#000" stroke-width="1.3" fill="none" />
<path d="M367.6 520.4 L368.4 516.6 L371.2 515.4 L371.2 521.6" stroke="#000" stroke-width="1.3" fill="#fff" stroke-linejoin="round"/>
<path d="M368.8 517.2 L371.2 518.6" stroke="#000" stroke-width="2.0" fill="none" />
<path d="M371.2 519.3 L379.2 515.4 L380.4 516.4 L380.4 533 L372.1 536.9 L371.2 536 Z" stroke="#000" stroke-width="1.7" fill="#fff" stroke-linejoin="round"/>
<line x1="372.3" y1="520.2" x2="372.3" y2="536.4" stroke="#000" stroke-width="0.9" />
<ellipse cx="375.9" cy="521.6" rx="2" ry="1.8" stroke="none" stroke-width="0" fill="#000" transform="rotate(0 375.9 521.6)"/>
<ellipse cx="375.9" cy="532.2" rx="2" ry="1.8" stroke="none" stroke-width="0" fill="#000" transform="rotate(0 375.9 532.2)"/>
</g>
<g transform="translate(-104.8 234.1)">
<path d="M368.8 545 L368.8 554.6 Q368.8 557.8 371.4 557.8 Q373.6 557.8 373.9 554.6 L373.9 546" stroke="#000" stroke-width="1.4" fill="#fff" />
<line x1="374.6" y1="546" x2="374.6" y2="555.6" stroke="#000" stroke-width="2.6" />
<path d="M365.4 532.7 L371.9 536.4 L381.6 532.3 L381.6 545.6 L371.9 549.8 L365.4 546.6 Z" stroke="#000" stroke-width="2.0" fill="#fff" />
<line x1="365.7" y1="532.7" x2="365.7" y2="546.4" stroke="#000" stroke-width="2.4" />
<line x1="373.6" y1="537.3" x2="373.6" y2="548.4" stroke="#a8a8a8" stroke-width="2.0" />
<path d="M365.2 531.4 L371.2 529.6 L371.6 536.8 L365.2 533.8 Z" stroke="#000" stroke-width="1.0" fill="#000" />
<path d="M364.5 522.4 L368.6 520.8 L371.4 522.2 L371.4 530.4 L369.6 530 L364.5 527 Z" stroke="#000" stroke-width="1.7" fill="#fff" stroke-linejoin="round"/>
<path d="M364.5 522.6 L368.9 525 L368.9 529.6" stroke="#000" stroke-width="1.3" fill="none" />
<path d="M367.6 520.4 L368.4 516.6 L371.2 515.4 L371.2 521.6" stroke="#000" stroke-width="1.3" fill="#fff" stroke-linejoin="round"/>
<path d="M368.8 517.2 L371.2 518.6" stroke="#000" stroke-width="2.0" fill="none" />
<path d="M371.2 519.3 L379.2 515.4 L380.4 516.4 L380.4 533 L372.1 536.9 L371.2 536 Z" stroke="#000" stroke-width="1.7" fill="#fff" stroke-linejoin="round"/>
<line x1="372.3" y1="520.2" x2="372.3" y2="536.4" stroke="#000" stroke-width="0.9" />
<ellipse cx="375.9" cy="521.6" rx="2" ry="1.8" stroke="none" stroke-width="0" fill="#000" transform="rotate(0 375.9 521.6)"/>
<ellipse cx="375.9" cy="532.2" rx="2" ry="1.8" stroke="none" stroke-width="0" fill="#000" transform="rotate(0 375.9 532.2)"/>
</g>
<g transform="translate(104.8 -49.6)">
<line x1="271.3" y1="110.5" x2="271.3" y2="794" stroke="#555" stroke-width="0.8" />
<path d="M231 119.5 L231 813.8" stroke="#000" stroke-width="2.0" fill="none" />
<path d="M279 104.7 L279 799.9" stroke="#000" stroke-width="2.1" fill="none" />
<line x1="276.8" y1="107.6" x2="276.8" y2="798.2" stroke="#555" stroke-width="0.9" />
<path d="M231 119.5 L272 99.9 L278.9 104.7 L238.5 125.5 Z" stroke="#000" stroke-width="2.0" fill="#fff" stroke-linejoin="bevel"/>
<path d="M231 813.8 L238.5 819.1 L278.9 799.9" stroke="#000" stroke-width="2.3" fill="none" stroke-linejoin="bevel"/>
<path d="M231 813.8 L271.8 794.6 L278.3 799.3" stroke="#000" stroke-width="1.5" fill="none" />
<line x1="271.8" y1="794.6" x2="271.8" y2="785" stroke="#000" stroke-width="1.5" />
</g>
<g transform="translate(104.8 -49.6)">
<line x1="263.9" y1="160" x2="263.9" y2="312" stroke="#1a1a1a" stroke-width="1.6" />
<line x1="271.1" y1="160" x2="271.1" y2="312" stroke="#333" stroke-width="1.8" />
<line x1="269.3" y1="160" x2="269.3" y2="312" stroke="#000" stroke-width="2.4" />
</g>
<g transform="translate(104.8 -49.6)">
<line x1="263.9" y1="345" x2="263.9" y2="377" stroke="#1a1a1a" stroke-width="1.6" />
<line x1="271.1" y1="345" x2="271.1" y2="377" stroke="#333" stroke-width="1.8" />
<line x1="269.3" y1="345" x2="269.3" y2="377" stroke="#000" stroke-width="2.4" />
</g>
<g transform="translate(104.8 -49.6)">
<line x1="263.9" y1="531" x2="263.9" y2="566" stroke="#1a1a1a" stroke-width="1.6" />
<line x1="271.1" y1="531" x2="271.1" y2="566" stroke="#333" stroke-width="1.8" />
<line x1="269.3" y1="531" x2="269.3" y2="566" stroke="#000" stroke-width="2.4" />
</g>
<g transform="translate(104.8 -49.6)">
<line x1="263.9" y1="598" x2="263.9" y2="751" stroke="#1a1a1a" stroke-width="1.6" />
<line x1="271.1" y1="598" x2="271.1" y2="751" stroke="#333" stroke-width="1.8" />
<line x1="269.3" y1="598" x2="269.3" y2="751" stroke="#000" stroke-width="2.4" />
</g>
<g transform="translate(104.8 -49.6)">
<path d="M263.7 128 L263.7 119.6 Q263.7 117.1 266.1 117.1 Q268.7 117.1 268.7 119.6 L268.7 129" stroke="#000" stroke-width="1.5" fill="#fff" />
<path d="M260.6 127 L270.3 122.8 L277 125.7 L277 138.8 L267.3 143.2 L260.6 139.8 Z" stroke="#000" stroke-width="2.0" fill="#fff" />
<path d="M260.9 127 L270.3 123 L276.6 125.8 L267.3 130.4 Z" stroke="#000" stroke-width="2.2" fill="#000" />
<path d="M270.6 125.9 L273.4 124.6 L274.2 126.2 L271 127.6 Z" stroke="none" stroke-width="0" fill="#fff" />
<path d="M263.7 128.3 L263.7 119.6 Q263.7 117.1 266.1 117.1 Q268.7 117.1 268.7 119.6 L268.7 129.6 Z" stroke="#000" stroke-width="1.5" fill="#fff" />
<line x1="260.9" y1="127" x2="260.9" y2="139.8" stroke="#000" stroke-width="2.4" />
<line x1="267.3" y1="130.4" x2="267.3" y2="143.2" stroke="#000" stroke-width="1.1" />
<line x1="268.9" y1="131.2" x2="268.9" y2="141.6" stroke="#a8a8a8" stroke-width="2.0" />
<path d="M259.5 148.1 L266.4 145.3 L275.2 142.3 L275.2 159.8 L266.9 162.8 L262.9 160.3 L259.5 153.5 Z" stroke="#000" stroke-width="1.8" fill="#fff" stroke-linejoin="round"/>
<line x1="266.4" y1="145.3" x2="266.7" y2="162.6" stroke="#000" stroke-width="1.0" />
<ellipse cx="271.2" cy="147.7" rx="2" ry="1.8" stroke="none" stroke-width="0" fill="#000" transform="rotate(0 271.2 147.7)"/>
<ellipse cx="271.2" cy="158.4" rx="2" ry="1.8" stroke="none" stroke-width="0" fill="#000" transform="rotate(0 271.2 158.4)"/>
</g>
<g transform="translate(104.8 135.20000000000002)">
<path d="M260.6 127 L270.3 122.8 L277 125.7 L277 138.8 L267.3 143.2 L260.6 139.8 Z" stroke="#000" stroke-width="2.0" fill="#fff" />
<path d="M260.9 127 L270.3 123 L276.6 125.8 L267.3 130.4 Z" stroke="#000" stroke-width="2.2" fill="#000" />
<path d="M270.6 125.9 L273.4 124.6 L274.2 126.2 L271 127.6 Z" stroke="none" stroke-width="0" fill="#fff" />
<rect x="264.3" y="123" width="3.2" height="5.5" rx="0" stroke="none" stroke-width="0" fill="#fff"/>
<line x1="263.6" y1="118" x2="263.6" y2="129" stroke="#111" stroke-width="1.2" />
<line x1="268.3" y1="118" x2="268.3" y2="129.5" stroke="#111" stroke-width="1.2" />
<line x1="270.7" y1="118" x2="270.7" y2="127" stroke="#000" stroke-width="2.0" />
<line x1="260.9" y1="127" x2="260.9" y2="139.8" stroke="#000" stroke-width="2.4" />
<line x1="267.3" y1="130.4" x2="267.3" y2="143.2" stroke="#000" stroke-width="1.1" />
<line x1="268.9" y1="131.2" x2="268.9" y2="141.6" stroke="#a8a8a8" stroke-width="2.0" />
<path d="M259.5 148.1 L266.4 145.3 L275.2 142.3 L275.2 159.8 L266.9 162.8 L262.9 160.3 L259.5 153.5 Z" stroke="#000" stroke-width="1.8" fill="#fff" stroke-linejoin="round"/>
<line x1="266.4" y1="145.3" x2="266.7" y2="162.6" stroke="#000" stroke-width="1.0" />
<ellipse cx="271.2" cy="147.7" rx="2" ry="1.8" stroke="none" stroke-width="0" fill="#000" transform="rotate(0 271.2 147.7)"/>
<ellipse cx="271.2" cy="158.4" rx="2" ry="1.8" stroke="none" stroke-width="0" fill="#000" transform="rotate(0 271.2 158.4)"/>
</g>
<g transform="translate(0.0 0.0)">
<path d="M365.4 532.7 L371.9 536.4 L381.6 532.3 L381.6 545.6 L371.9 549.8 L365.4 546.6 Z" stroke="#000" stroke-width="2.0" fill="#fff" />
<line x1="365.7" y1="532.7" x2="365.7" y2="546.4" stroke="#000" stroke-width="2.4" />
<line x1="373.6" y1="537.3" x2="373.6" y2="548.4" stroke="#a8a8a8" stroke-width="2.0" />
<path d="M365.2 531.4 L371.2 529.6 L371.6 536.8 L365.2 533.8 Z" stroke="#000" stroke-width="1.0" fill="#000" />
<path d="M364.5 522.4 L368.6 520.8 L371.4 522.2 L371.4 530.4 L369.6 530 L364.5 527 Z" stroke="#000" stroke-width="1.7" fill="#fff" stroke-linejoin="round"/>
<path d="M364.5 522.6 L368.9 525 L368.9 529.6" stroke="#000" stroke-width="1.3" fill="none" />
<path d="M367.6 520.4 L368.4 516.6 L371.2 515.4 L371.2 521.6" stroke="#000" stroke-width="1.3" fill="#fff" stroke-linejoin="round"/>
<path d="M368.8 517.2 L371.2 518.6" stroke="#000" stroke-width="2.0" fill="none" />
<path d="M371.2 519.3 L379.2 515.4 L380.4 516.4 L380.4 533 L372.1 536.9 L371.2 536 Z" stroke="#000" stroke-width="1.7" fill="#fff" stroke-linejoin="round"/>
<line x1="372.3" y1="520.2" x2="372.3" y2="536.4" stroke="#000" stroke-width="0.9" />
<ellipse cx="375.9" cy="521.6" rx="2" ry="1.8" stroke="none" stroke-width="0" fill="#000" transform="rotate(0 375.9 521.6)"/>
<ellipse cx="375.9" cy="532.2" rx="2" ry="1.8" stroke="none" stroke-width="0" fill="#000" transform="rotate(0 375.9 532.2)"/>
</g>
<g transform="translate(0.0 184.5)">
<path d="M368.8 545 L368.8 554.6 Q368.8 557.8 371.4 557.8 Q373.6 557.8 373.9 554.6 L373.9 546" stroke="#000" stroke-width="1.4" fill="#fff" />
<line x1="374.6" y1="546" x2="374.6" y2="555.6" stroke="#000" stroke-width="2.6" />
<path d="M365.4 532.7 L371.9 536.4 L381.6 532.3 L381.6 545.6 L371.9 549.8 L365.4 546.6 Z" stroke="#000" stroke-width="2.0" fill="#fff" />
<line x1="365.7" y1="532.7" x2="365.7" y2="546.4" stroke="#000" stroke-width="2.4" />
<line x1="373.6" y1="537.3" x2="373.6" y2="548.4" stroke="#a8a8a8" stroke-width="2.0" />
<path d="M365.2 531.4 L371.2 529.6 L371.6 536.8 L365.2 533.8 Z" stroke="#000" stroke-width="1.0" fill="#000" />
<path d="M364.5 522.4 L368.6 520.8 L371.4 522.2 L371.4 530.4 L369.6 530 L364.5 527 Z" stroke="#000" stroke-width="1.7" fill="#fff" stroke-linejoin="round"/>
<path d="M364.5 522.6 L368.9 525 L368.9 529.6" stroke="#000" stroke-width="1.3" fill="none" />
<path d="M367.6 520.4 L368.4 516.6 L371.2 515.4 L371.2 521.6" stroke="#000" stroke-width="1.3" fill="#fff" stroke-linejoin="round"/>
<path d="M368.8 517.2 L371.2 518.6" stroke="#000" stroke-width="2.0" fill="none" />
<path d="M371.2 519.3 L379.2 515.4 L380.4 516.4 L380.4 533 L372.1 536.9 L371.2 536 Z" stroke="#000" stroke-width="1.7" fill="#fff" stroke-linejoin="round"/>
<line x1="372.3" y1="520.2" x2="372.3" y2="536.4" stroke="#000" stroke-width="0.9" />
<ellipse cx="375.9" cy="521.6" rx="2" ry="1.8" stroke="none" stroke-width="0" fill="#000" transform="rotate(0 375.9 521.6)"/>
<ellipse cx="375.9" cy="532.2" rx="2" ry="1.8" stroke="none" stroke-width="0" fill="#000" transform="rotate(0 375.9 532.2)"/>
</g>
<ellipse cx="266.4" cy="380.6" rx="1.9" ry="2.7" stroke="#000" stroke-width="2.1" fill="#fff" transform="rotate(-30 266.4 380.6)"/>
<path d="M268.6 379.6 Q269.6 377.2 272.2 378.2 Q273.4 379 273.4 381 L273.4 415" stroke="#000" stroke-width="2.3" fill="none" />
<line x1="268.1" y1="383" x2="268.1" y2="414" stroke="#000" stroke-width="1.4" />
<line x1="270.9" y1="383.5" x2="270.9" y2="386.5" stroke="#000" stroke-width="1.2" />
<path d="M257.7 418 L267 413.2 L276.4 418 L276.4 439.6 L273.6 442.2 L265.2 444.4 L257.7 441 Z" stroke="#000" stroke-width="1.6" fill="#fff" stroke-linejoin="round"/>
<path d="M258.4 418 L267 413.6 L275.8 418 L265.6 421.4 Z" stroke="#000" stroke-width="1.2" fill="#000" />
<circle cx="268" cy="418.5" r="1.3" stroke="none" stroke-width="0" fill="#fff"/>
<path d="M265 421 L276.4 418 L276.4 439.6 L273.8 442 L265 441.2 Z" stroke="#000" stroke-width="0.8" fill="#000" />
<rect x="273.2" y="423" width="1.2" height="5" rx="0" stroke="none" stroke-width="0" fill="#ccc"/>
<rect x="273.6" y="432" width="1" height="6" rx="0" stroke="none" stroke-width="0" fill="#ccc"/>
<rect x="266.6" y="425" width="0.9" height="3" rx="0" stroke="none" stroke-width="0" fill="#999"/>
<line x1="257.8" y1="417.6" x2="257.8" y2="441" stroke="#000" stroke-width="2.0" />
<line x1="257.6" y1="440" x2="257.6" y2="530.4" stroke="#000" stroke-width="2.1" />
<line x1="260.1" y1="443" x2="260.1" y2="457" stroke="#000" stroke-width="1.2" />
<line x1="265.5" y1="444" x2="265.5" y2="460" stroke="#000" stroke-width="2.0" />
<line x1="267.9" y1="445" x2="267.9" y2="456" stroke="#999" stroke-width="1.2" />
<line x1="270.9" y1="443.5" x2="270.9" y2="457" stroke="#000" stroke-width="1.2" />
<path d="M258.7 457.6 L263.6 461" stroke="#000" stroke-width="1.4" fill="none" />
<path d="M259.6 455.8 L264.6 459.4" stroke="#000" stroke-width="0.9" fill="none" />
<path d="M263.6 461 L267 455.2 L278.6 462.6 L278.6 487.8 L270.6 491.8 L263.6 489 Z" stroke="#000" stroke-width="1.9" fill="#fff" stroke-linejoin="round"/>
<path d="M263.6 461 L270.6 467.4 L278.6 462.6" stroke="#000" stroke-width="1.3" fill="none" />
<line x1="270.6" y1="467.4" x2="270.6" y2="491.8" stroke="#000" stroke-width="1.1" />
<line x1="269.6" y1="470" x2="269.6" y2="491" stroke="#999" stroke-width="1.7" />
<circle cx="270.6" cy="468.4" r="2.3" stroke="none" stroke-width="0" fill="#000"/>
<path d="M264.6 472.8 L268 475.2 L268 486 L264.6 483 Z" stroke="#000" stroke-width="1.0" fill="#fff" />
<circle cx="265" cy="489.4" r="2.4" stroke="none" stroke-width="0" fill="#000"/>
<circle cx="277.8" cy="488.2" r="1.8" stroke="none" stroke-width="0" fill="#000"/>
<line x1="263.9" y1="491" x2="263.9" y2="530" stroke="#000" stroke-width="1.2" />
<line x1="271.4" y1="492" x2="271.4" y2="528" stroke="#000" stroke-width="1.2" />
<path d="M257.6 530.2 L264.6 534.4 L268.5 533" stroke="#000" stroke-width="1.7" fill="none" />
<circle cx="261" cy="525.8" r="0.8" stroke="#000" stroke-width="0.6" fill="#fff"/>
<circle cx="266.4" cy="529.6" r="3" stroke="#000" stroke-width="2.3" fill="#fff"/>
<path d="M266.4 526.5 Q270.6 526.5 270.6 531" stroke="#000" stroke-width="2.0" fill="none" />
<ellipse cx="371.4" cy="330.2" rx="2.2" ry="2.8" stroke="#000" stroke-width="1.8" fill="#222" transform="rotate(-20 371.4 330.2)"/>
<path d="M372.6 329.4 L374 328.4 L378.1 330.4 L378.1 362.8" stroke="#000" stroke-width="2.0" fill="none" />
<line x1="372.6" y1="331" x2="372.6" y2="360" stroke="#000" stroke-width="1.0" />
<ellipse cx="368.8" cy="361.4" rx="3.6" ry="4.4" stroke="#000" stroke-width="1.5" fill="#fff" transform="rotate(20 368.8 361.4)"/>
<ellipse cx="369.8" cy="362.2" rx="2.2" ry="3.4" stroke="none" stroke-width="0" fill="#000" transform="rotate(20 369.8 362.2)"/>
<path d="M362.8 365.8 L379.9 362.6 L380.4 386.2 L381 387 L381 397.2 L379.4 399.2 L372.6 400.2 L369.6 402 L362.8 401.4 Z" stroke="#000" stroke-width="1.4" fill="#fff" stroke-linejoin="round"/>
<path d="M363.2 365.6 L371 368.2 L379.8 363.2" stroke="#000" stroke-width="1.2" fill="none" />
<line x1="362.9" y1="365.8" x2="362.9" y2="401.4" stroke="#000" stroke-width="1.9" />
<rect x="365.5" y="369" width="3.5" height="17" rx="0" stroke="none" stroke-width="0" fill="#bbb"/>
<line x1="369.8" y1="368.4" x2="369.8" y2="386" stroke="#000" stroke-width="1.0" />
<ellipse cx="374" cy="373.6" rx="2" ry="2.6" stroke="none" stroke-width="0" fill="#111" transform="rotate(20 374 373.6)"/>
<ellipse cx="374.5" cy="382.4" rx="3.3" ry="4" stroke="none" stroke-width="0" fill="#000" transform="rotate(20 374.5 382.4)"/>
<ellipse cx="374.4" cy="396.4" rx="2.4" ry="2.8" stroke="none" stroke-width="0" fill="#111" transform="rotate(20 374.4 396.4)"/>
<path d="M364.4 386.5 L370.2 389.5 L370.2 399 L364.4 396.5 Z" stroke="#000" stroke-width="0.8" fill="#000" />
<rect x="365.6" y="390.5" width="2.6" height="1.2" rx="0" stroke="none" stroke-width="0" fill="#ccc"/>
<rect x="365.6" y="393.6" width="2.6" height="1.2" rx="0" stroke="none" stroke-width="0" fill="#ccc"/>
<path d="M363 400 L367.5 402.6" stroke="#000" stroke-width="0.8" fill="none" />
<path d="M363 401.6 L367.5 404.2" stroke="#000" stroke-width="0.8" fill="none" />
<line x1="361.8" y1="401.5" x2="361.8" y2="481.4" stroke="#000" stroke-width="1.6" />
<line x1="366.8" y1="404" x2="366.8" y2="481" stroke="#000" stroke-width="2.2" />
<path d="M361.8 481.4 L367.8 484.8 L372 483.5" stroke="#000" stroke-width="1.5" fill="none" />
<line x1="372" y1="399" x2="372" y2="407" stroke="#000" stroke-width="2.4" />
<path d="M369 409.4 L373 406.8 L379.4 411.2 L379.4 435.6 L377.4 438 L370 440.6 L369 439.6 Z" stroke="#000" stroke-width="1.3" fill="#fff" stroke-linejoin="round"/>
<path d="M369 410.8 L372.6 412.6 L379.2 412.4" stroke="#000" stroke-width="1.0" fill="none" />
<path d="M369.4 412.6 L374.8 409.2" stroke="#000" stroke-width="0.9" fill="none" />
<ellipse cx="373.4" cy="418.4" rx="2.6" ry="3" stroke="none" stroke-width="0" fill="#000" transform="rotate(0 373.4 418.4)"/>
<ellipse cx="375.2" cy="422" rx="1.6" ry="2" stroke="none" stroke-width="0" fill="#000" transform="rotate(0 375.2 422)"/>
<line x1="369.6" y1="414.5" x2="372" y2="415.5" stroke="#000" stroke-width="1.6" />
<line x1="377.6" y1="437.2" x2="379.4" y2="435.2" stroke="#000" stroke-width="2.2" />
<ellipse cx="370.6" cy="444.6" rx="2.6" ry="3.2" stroke="none" stroke-width="0" fill="#000" transform="rotate(0 370.6 444.6)"/>
<line x1="369" y1="441" x2="369" y2="478" stroke="#000" stroke-width="1.0" />
<line x1="375.9" y1="437" x2="375.9" y2="482" stroke="#333" stroke-width="1.0" />
<circle cx="370.6" cy="479.4" r="2.6" stroke="#000" stroke-width="1.7" fill="#fff"/>
<path d="M370.6 476.2 Q375.2 476.2 375.2 481.5" stroke="#000" stroke-width="2.0" fill="none" />
<circle cx="269.8" cy="327.4" r="35.4" stroke="#111" stroke-width="0.9" fill="none"/>
<ellipse cx="266.5" cy="456.2" rx="31.6" ry="87.8" stroke="#111" stroke-width="0.9" fill="none" transform="rotate(4.2 266.5 456.2)"/>
<path d="M287.5 295.6 L293.2 284.6 L306.2 284.6" stroke="#111" stroke-width="0.9" fill="none" />
<path d="M287.3 296 L289.6 289 L291.4 290 Z" stroke="#000" stroke-width="0.3" fill="#000" />
<path d="M306.6 278.4 L310.5 291.4 L314.6 278.4" stroke="#000" stroke-width="1.4" fill="none" stroke-linejoin="round"/>
<path d="M292 488.4 L304.5 514.4 L316.2 514.4" stroke="#111" stroke-width="0.9" fill="none" />
<path d="M291.9 488.2 L296.6 494.6 L294.7 495.5 Z" stroke="#000" stroke-width="0.3" fill="#000" />
<path d="M317.4 508.6 L317.4 517.6 Q317.4 520.9 320.8 520.9 Q324.2 520.9 324.2 517.6 L324.2 508.6" stroke="#000" stroke-width="1.4" fill="none" />
<path d="M197.6 155.6 L178.4 151.2 L159.8 152.7 L146.1 161 Q141.5 165.5 139.3 170.3 Q136.6 176 135.6 183 L132.2 212 L121.9 271.5 L126.4 292.4 Q131.8 302.6 142.2 311 Q150 316 159.8 318.9 L197.6 326.8" stroke="#000" stroke-width="1.5" fill="none" />
<line x1="197.6" y1="155.4" x2="197.6" y2="327.2" stroke="#000" stroke-width="1.3" />
<line x1="194.8" y1="155" x2="194.8" y2="326.8" stroke="#000" stroke-width="1.0" />
<line x1="193.2" y1="154.6" x2="193.2" y2="326.6" stroke="#888" stroke-width="0.6" />
<line x1="160" y1="152.9" x2="160" y2="319.6" stroke="#000" stroke-width="1.4" />
<line x1="172.1" y1="151.8" x2="172.1" y2="321.8" stroke="#000" stroke-width="1.3" />
<line x1="175.3" y1="151.6" x2="175.3" y2="322.4" stroke="#000" stroke-width="1.1" />
<line x1="173.7" y1="152.2" x2="173.7" y2="322" stroke="#aaa" stroke-width="0.5" />
<line x1="179" y1="151.6" x2="179" y2="323.2" stroke="#111" stroke-width="1.3" />
<line x1="177.4" y1="152.6" x2="177.4" y2="323" stroke="#aaa" stroke-width="0.5" />
<rect x="160.4" y="153" width="11.3" height="50" rx="0" stroke="none" stroke-width="0" fill="#fff"/>
<line x1="159.8" y1="152.9" x2="159.8" y2="203" stroke="#000" stroke-width="1.2" />
<line x1="172.2" y1="152.2" x2="172.2" y2="206" stroke="#000" stroke-width="1.2" />
<path d="M151.2 197.8 L176.6 185.6 L192.6 196.6 L192.6 230.6 L167.2 241.4 L151.2 230.8 Z" stroke="#000" stroke-width="1.6" fill="#fff" stroke-linejoin="round"/>
<path d="M152.4 198 L176.4 186.6 L191.6 197 L167.6 208.4 Z" stroke="#000" stroke-width="1.6" fill="#fff" stroke-linejoin="round"/>
<path d="M155.2 198.4 L176.2 188.6 L188.6 197 L167.8 206.4 Z" stroke="#000" stroke-width="0.9" fill="#fff" />
<path d="M174.6 191.2 L176.4 189.2 L187.8 196.8 L176.4 202 Z" stroke="#000" stroke-width="0.9" fill="#fff" />
<path d="M176.2 193.6 L184.4 197.4 L176.4 200.8 Z" stroke="#333" stroke-width="0.8" fill="#fff" />
<rect x="160.5" y="180" width="11.2" height="24.5" rx="0" stroke="none" stroke-width="0" fill="#fff"/>
<line x1="159.8" y1="170" x2="159.8" y2="203.6" stroke="#000" stroke-width="1.2" />
<line x1="172.2" y1="170" x2="172.2" y2="206.4" stroke="#000" stroke-width="1.2" />
<line x1="173.7" y1="188.5" x2="173.7" y2="205.6" stroke="#000" stroke-width="0.8" />
<path d="M159.8 203.4 L167.6 208.2 L172.2 206.2" stroke="#000" stroke-width="1.0" fill="none" />
<path d="M161.6 202.8 L167.6 206.4 L170.8 205" stroke="#333" stroke-width="0.7" fill="none" />
<line x1="152.2" y1="198" x2="152.2" y2="230.8" stroke="#000" stroke-width="2.0" />
<line x1="167.3" y1="208.4" x2="167.3" y2="241.2" stroke="#000" stroke-width="1.1" />
<line x1="169.4" y1="208" x2="169.4" y2="240.4" stroke="#888" stroke-width="1.0" />
<line x1="166" y1="208" x2="166" y2="240" stroke="#999" stroke-width="0.6" />
<line x1="154.2" y1="200.5" x2="154.2" y2="231.6" stroke="#222" stroke-width="1.0" />
<path d="M164.8 243.1 L184.5 236.1 L188.9 238.6 L166 247.4 Z" stroke="#000" stroke-width="0.9" fill="#fff" />
<path d="M148.6 252.6 L161.2 247.8 L164.4 249.2 L187.4 238.6 L190.2 240 L190.2 281.2 L167 291.4 L163.6 289.4 L148.6 264.6 Z" stroke="#000" stroke-width="1.5" fill="#fff" stroke-linejoin="round"/>
<path d="M161.2 247.8 L164.4 249.6 L165.4 290.6" stroke="#000" stroke-width="1.0" fill="none" />
<path d="M164.4 249.6 L189.6 238.8" stroke="#000" stroke-width="0.9" fill="none" />
<line x1="166.6" y1="250" x2="167" y2="290.6" stroke="#666" stroke-width="0.8" />
<ellipse cx="177.8" cy="251" rx="2.9" ry="3.7" stroke="#000" stroke-width="1.7" fill="#fff" transform="rotate(25 177.8 251)"/>
<ellipse cx="178.5" cy="250.4" rx="1.5" ry="2.3" stroke="none" stroke-width="0" fill="#111" transform="rotate(25 178.5 250.4)"/>
<ellipse cx="177.8" cy="278" rx="2.9" ry="3.7" stroke="#000" stroke-width="1.7" fill="#fff" transform="rotate(25 177.8 278)"/>
<ellipse cx="178.5" cy="277.4" rx="1.5" ry="2.3" stroke="none" stroke-width="0" fill="#111" transform="rotate(25 178.5 277.4)"/>
<path d="M118.3 308.2 L122.5 321.4 L126.8 308.2" stroke="#000" stroke-width="1.6" fill="none" stroke-linejoin="round"/>
<text x="118" y="336.9" font-size="15" fill="#4a4a4a" text-anchor="start" font-weight="normal" textLength="14.9" lengthAdjust="spacingAndGlyphs">1:2</text>
<path d="M197.3 378.9 Q191 375.6 184.4 376.1 Q177 377.2 170.3 380.5 L158.6 385.8 L136.3 394 Q131 397 127.9 401.1 L124.6 415.1 L130.2 449.7 L125.8 470.8 L108.8 505.2 L106.4 535.6 L113 568 Q118.2 590 119.4 620 L120.7 680 L124.9 729.8 L122.4 773 Q124.4 786 132.6 797.4 Q136.4 803.6 142.6 807.4 Q149 810.8 158.6 811.4 Q178 810.6 197.9 803.7" stroke="#000" stroke-width="1.5" fill="none" />
<rect x="194.4" y="378.2" width="3.3" height="426" rx="0" stroke="none" stroke-width="0" fill="#3c3c3c"/>
<path d="M180.6 399.2 Q185.0 400.2 185.0 405 L185.0 497" stroke="#111" stroke-width="1.1" fill="none" />
<line x1="177.3" y1="377.6" x2="177.3" y2="395.4" stroke="#222" stroke-width="1.0" />
<line x1="174.4" y1="378.6" x2="174.4" y2="403" stroke="#000" stroke-width="1.2" />
<line x1="171.6" y1="380" x2="171.6" y2="409.5" stroke="#222" stroke-width="1.0" />
<path d="M158.8 386.2 L158.8 399.6 L161.2 404 L170.2 410.4 L173.6 408.6 L174.4 407" stroke="#000" stroke-width="1.2" fill="none" stroke-linejoin="round"/>
<path d="M161.6 398.6 L168.6 403.4" stroke="#000" stroke-width="1.6" fill="none" />
<path d="M163 394.6 L165 393.4 L167.4 396 L167.6 402.4" stroke="#000" stroke-width="1.0" fill="none" stroke-dasharray="3 1"/>
<path d="M175 395.4 L182.8 400.2 L185 402.8" stroke="#000" stroke-width="1.0" fill="none" />
<path d="M175 398.2 L181.6 402.2 L175.2 405" stroke="#333" stroke-width="0.9" fill="none" />
<line x1="170.4" y1="410.4" x2="170.4" y2="486.8" stroke="#000" stroke-width="1.4" />
<line x1="182" y1="401" x2="182" y2="494.6" stroke="#000" stroke-width="1.1" />
<ellipse cx="176.2" cy="418.2" rx="1.5" ry="2" stroke="#000" stroke-width="0.9" fill="#fff" transform="rotate(-20 176.2 418.2)"/>
<path d="M143.9 497 L151 493 L164.4 486.2 L189.8 497.2 L189.8 553.6 L183.4 557.8 L175 553.6 L168.8 556.6 L168.8 563.4 L163.3 567.3 L143.9 555.1 Z" stroke="#000" stroke-width="1.8" fill="#fff" stroke-linejoin="round"/>
<path d="M143.9 497 L163.3 509.2 L169.6 506.2" stroke="#000" stroke-width="1.5" fill="none" />
<line x1="163.3" y1="509.2" x2="163.3" y2="567.3" stroke="#000" stroke-width="1.7" />
<line x1="161.6" y1="510.5" x2="161.6" y2="565" stroke="#555" stroke-width="0.7" />
<path d="M143.9 514.6 L145.4 515.6 L145.4 536.6 L143.9 537.6" stroke="#000" stroke-width="1.3" fill="none" />
<path d="M148.8 496.6 L151.8 495.2 L164.6 503.6 L161.6 505.4 Z" stroke="#000" stroke-width="1.2" fill="#fff" stroke-linejoin="round"/>
<path d="M153.6 498.6 L155.2 497.6 L162.4 502.4 L160.8 503.6 Z" stroke="#000" stroke-width="1.2" fill="#fff" stroke-linejoin="round"/>
<ellipse cx="157.6" cy="490.6" rx="3.6" ry="3" stroke="#000" stroke-width="1.9" fill="#fff" transform="rotate(-20 157.6 490.6)"/>
<ellipse cx="158.6" cy="490" rx="1.6" ry="1.3" stroke="none" stroke-width="0" fill="#000" transform="rotate(0 158.6 490)"/>
<path d="M164.2 487.4 L167.6 484.4 L170.2 485 L189.6 496.8 L183.6 500.2 L176.4 495.6 L172.4 497.4 L165.6 491.4 Z" stroke="#000" stroke-width="1.5" fill="#fff" stroke-linejoin="round"/>
<path d="M167.6 487.6 L174.6 491.8 L183 497.8" stroke="#444" stroke-width="0.8" fill="none" />
<path d="M165.6 492.4 L169.6 502.6 L174.8 498.6 L176.6 496.2" stroke="#000" stroke-width="1.2" fill="#fff" />
<line x1="181" y1="498.6" x2="181" y2="556.2" stroke="#000" stroke-width="1.2" />
<line x1="183.4" y1="500.2" x2="183.4" y2="557.6" stroke="#000" stroke-width="1.0" />
<line x1="188.3" y1="503.4" x2="188.3" y2="514.2" stroke="#000" stroke-width="1.8" />
<line x1="188.3" y1="535.6" x2="188.3" y2="549.4" stroke="#000" stroke-width="1.8" />
<path d="M176.8 497.6 L176.8 503.6 L181 505.8" stroke="#000" stroke-width="1.8" fill="none" />
<path d="M176.8 546.4 L176.8 552.6 L182.6 555.6" stroke="#000" stroke-width="1.6" fill="none" />
<path d="M183.6 554.4 L189.6 551" stroke="#000" stroke-width="1.0" fill="none" />
<path d="M165.6 512.2 L167.2 511.4 L167.2 524" stroke="#000" stroke-width="1.4" fill="none" />
<path d="M161 527 L161 548 L163.3 549.4" stroke="#000" stroke-width="1.2" fill="none" />
<path d="M166.6 540 L166.6 562.6" stroke="#000" stroke-width="1.4" fill="none" />
<ellipse cx="174.1" cy="529.7" rx="11.4" ry="12.6" stroke="#000" stroke-width="1.4" fill="#111" transform="rotate(-15 174.1 529.7)"/>
<path d="M176.6 518.6 Q184.6 519.6 185.4 529.6 Q185.2 535.6 181.0 538.4 Q176.6 533.6 177.2 526.6 Z" stroke="none" stroke-width="0" fill="#fff" />
<circle cx="179.2" cy="520.4" r="0.75" stroke="none" stroke-width="0" fill="#111"/>
<circle cx="181.6" cy="521.8" r="0.75" stroke="none" stroke-width="0" fill="#111"/>
<circle cx="183.4" cy="524.2" r="0.75" stroke="none" stroke-width="0" fill="#111"/>
<circle cx="184.2" cy="527.2" r="0.75" stroke="none" stroke-width="0" fill="#111"/>
<circle cx="184.2" cy="530.4" r="0.75" stroke="none" stroke-width="0" fill="#111"/>
<circle cx="183.2" cy="533.4" r="0.75" stroke="none" stroke-width="0" fill="#111"/>
<circle cx="181.4" cy="535.8" r="0.75" stroke="none" stroke-width="0" fill="#111"/>
<circle cx="179.4" cy="523.4" r="0.75" stroke="none" stroke-width="0" fill="#111"/>
<circle cx="181.2" cy="525.8" r="0.75" stroke="none" stroke-width="0" fill="#111"/>
<circle cx="181.8" cy="529" r="0.75" stroke="none" stroke-width="0" fill="#111"/>
<circle cx="181" cy="532.2" r="0.75" stroke="none" stroke-width="0" fill="#111"/>
<circle cx="179" cy="527" r="0.75" stroke="none" stroke-width="0" fill="#111"/>
<circle cx="179.4" cy="530.6" r="0.75" stroke="none" stroke-width="0" fill="#111"/>
<circle cx="178.6" cy="534.4" r="0.75" stroke="none" stroke-width="0" fill="#111"/>
<path d="M176.2 518.4 Q185.8 519.6 186.0 530.2 Q185.6 537.2 180.6 539.6" stroke="#000" stroke-width="1.3" fill="none" />
<ellipse cx="170.2" cy="528.2" rx="1.4" ry="3.4" stroke="none" stroke-width="0" fill="#fff" transform="rotate(25 170.2 528.2)"/>
<ellipse cx="176.6" cy="528.4" rx="0.9" ry="2.2" stroke="none" stroke-width="0" fill="#ccc" transform="rotate(20 176.6 528.4)"/>
<ellipse cx="173.6" cy="533.6" rx="1" ry="1.6" stroke="none" stroke-width="0" fill="#888" transform="rotate(20 173.6 533.6)"/>
<path d="M164.4 537 Q168.6 543.6 175.6 540.6" stroke="#eee" stroke-width="1.0" fill="none" />
<path d="M164.6 533.4 L168.6 535.2" stroke="#ccc" stroke-width="0.9" fill="none" />
<circle cx="172.6" cy="508.4" r="4" stroke="none" stroke-width="0" fill="#000"/>
<circle cx="171.6" cy="508.4" r="2.3" stroke="none" stroke-width="0" fill="#fff"/>
<circle cx="172.6" cy="508.6" r="1.2" stroke="none" stroke-width="0" fill="#000"/>
<line x1="175.6" y1="506.8" x2="181" y2="506" stroke="#000" stroke-width="1.8" />
<circle cx="172.6" cy="550.4" r="4" stroke="none" stroke-width="0" fill="#000"/>
<circle cx="171.6" cy="550.4" r="2.3" stroke="none" stroke-width="0" fill="#fff"/>
<circle cx="172.6" cy="550.6" r="1.2" stroke="none" stroke-width="0" fill="#000"/>
<line x1="175.6" y1="548.8" x2="181" y2="548" stroke="#000" stroke-width="1.8" />
<rect x="166.6" y="513.6" width="4.2" height="2.2" rx="0" stroke="none" stroke-width="0" fill="#000"/>
<rect x="166.6" y="543.6" width="3.2" height="2.2" rx="0" stroke="none" stroke-width="0" fill="#000"/>
<path d="M167.6 556.8 L167.6 566" stroke="#000" stroke-width="2.0" fill="none" />
<line x1="144.2" y1="554" x2="144.2" y2="596" stroke="#000" stroke-width="1.5" />
<line x1="148.2" y1="557.6" x2="148.2" y2="590" stroke="#000" stroke-width="1.3" />
<line x1="162.3" y1="566" x2="162.3" y2="597" stroke="#000" stroke-width="1.6" />
<line x1="164.2" y1="565" x2="164.2" y2="589" stroke="#000" stroke-width="1.1" />
<line x1="170.3" y1="556.8" x2="170.3" y2="588" stroke="#000" stroke-width="1.3" />
<line x1="177.2" y1="556" x2="177.2" y2="593" stroke="#444" stroke-width="0.9" />
<line x1="167.2" y1="567" x2="167.2" y2="586" stroke="#999" stroke-width="1.6" />
<path d="M148.2 589.6 L150.8 591 L160.6 597.8 L162.1 600.7 L159.8 604 L157.3 607.6 L157.1 612" stroke="#000" stroke-width="1.9" fill="none" stroke-linejoin="round"/>
<path d="M144.4 599.6 L155.1 606.9 L155.1 612" stroke="#000" stroke-width="1.0" fill="none" />
<path d="M146.9 594 L158.6 601.4" stroke="#333" stroke-width="0.8" fill="none" />
<path d="M162.6 598 L167.2 589.4 L168.8 588.6 L181.4 596.8 L195.6 609 L196 670.6 L194 674.8 L173.4 686.1 L159.6 676 L160.2 607.2 Z" stroke="#000" stroke-width="1.4" fill="#fff" stroke-linejoin="round"/>
<path d="M160.2 607.2 L178.9 598.8 L181.4 596.8" stroke="#000" stroke-width="1.8" fill="none" stroke-linejoin="round"/>
<path d="M167.2 589.4 L178.9 598.8" stroke="#000" stroke-width="0.9" fill="none" />
<path d="M160 607.4 L176.6 619 L195.6 609.2" stroke="#000" stroke-width="1.1" fill="none" />
<path d="M161 610.6 L174.6 621" stroke="#444" stroke-width="0.7" fill="none" />
<path d="M179.6 617.6 L194.6 610.6" stroke="#444" stroke-width="0.7" fill="none" />
<line x1="172.8" y1="620.6" x2="172.8" y2="685.4" stroke="#000" stroke-width="1.0" />
<line x1="176.6" y1="620" x2="176.6" y2="684.4" stroke="#000" stroke-width="1.0" />
<line x1="174.6" y1="622" x2="174.6" y2="684" stroke="#888" stroke-width="0.6" />
<ellipse cx="177.3" cy="622" rx="4" ry="4.4" stroke="#000" stroke-width="1.4" fill="#444" transform="rotate(0 177.3 622)"/>
<ellipse cx="176.8" cy="621.4" rx="2" ry="2.3" stroke="none" stroke-width="0" fill="#bbb" transform="rotate(0 176.8 621.4)"/>
<path d="M160.2 629.8 L170.3 636.9 L170.3 670.5 L160.2 663.4 Z" stroke="#000" stroke-width="1.1" fill="#fff" />
<line x1="159.6" y1="608" x2="159.6" y2="676" stroke="#000" stroke-width="1.6" />
<path d="M196.4 636 Q198.8 641 196.4 648" stroke="#000" stroke-width="1.0" fill="#333" />
<path d="M196 668.6 Q192.4 670.6 193.6 675.6" stroke="#000" stroke-width="1.1" fill="none" />
<ellipse cx="163.2" cy="674.4" rx="4" ry="5" stroke="#000" stroke-width="1.0" fill="#fff" transform="rotate(-20 163.2 674.4)"/>
<ellipse cx="163.2" cy="674.4" rx="2.4" ry="3.2" stroke="#000" stroke-width="0.8" fill="#fff" transform="rotate(-20 163.2 674.4)"/>
<line x1="161.4" y1="672" x2="165" y2="677" stroke="#000" stroke-width="0.8" />
<line x1="165" y1="672.4" x2="161.4" y2="676.8" stroke="#000" stroke-width="0.8" />
<ellipse cx="163.6" cy="682.6" rx="3.4" ry="2.6" stroke="#000" stroke-width="0.9" fill="#fff" transform="rotate(-30 163.6 682.6)"/>
<line x1="144" y1="596" x2="144" y2="777.2" stroke="#000" stroke-width="1.5" />
<line x1="157" y1="611" x2="157" y2="690" stroke="#000" stroke-width="1.7" />
<line x1="155.1" y1="611" x2="155.1" y2="690" stroke="#000" stroke-width="0.9" />
<line x1="155.8" y1="688" x2="155.8" y2="784.6" stroke="#000" stroke-width="1.2" />
<line x1="158.6" y1="690" x2="158.6" y2="786" stroke="#000" stroke-width="1.2" />
<line x1="177.7" y1="683.4" x2="177.7" y2="809.2" stroke="#222" stroke-width="1.4" />
<path d="M144 777 L157.6 786 L160 786.8 L171.2 781.6" stroke="#000" stroke-width="1.3" fill="none" stroke-linejoin="round"/>
<path d="M145.4 776.4 L157.6 784.4 L160 785 L170.4 780.2" stroke="#222" stroke-width="0.9" fill="none" stroke-linejoin="round"/>
<ellipse cx="150" cy="767.2" rx="1.6" ry="2.1" stroke="#000" stroke-width="0.8" fill="#fff" transform="rotate(-20 150 767.2)"/>
<path d="M160.2 769.4 Q162.6 764.4 167.0 766.4 L173.6 772.4 Q175.4 774 175.4 777 L175.4 809.6" stroke="#000" stroke-width="1.5" fill="none" />
<path d="M162.0 771.6 Q164 768.6 166.6 770.0 L170.8 774.6 Q171.8 776.0 171.8 778.4 L171.8 810" stroke="#000" stroke-width="1.3" fill="none" />
<path d="M160.2 769.4 Q159.4 772.6 162.2 774.2 L165.4 775.0 Q167.6 772 166 770.6" stroke="#000" stroke-width="1.6" fill="none" />
<line x1="159.3" y1="787.4" x2="159.3" y2="811" stroke="#000" stroke-width="1.2" />
<line x1="173.6" y1="780" x2="173.6" y2="809.8" stroke="#888" stroke-width="0.6" />
<path d="M118.6 812.2 L118.6 821.6 Q118.6 825.2 122.3 825.2 Q126.0 825.2 126.0 821.6 L126.0 812.2" stroke="#000" stroke-width="1.5" fill="none" />
<text x="118" y="840.8" font-size="15" fill="#4a4a4a" text-anchor="start" font-weight="normal" textLength="14.9" lengthAdjust="spacingAndGlyphs">1:2</text>
<circle cx="47.5" cy="487.2" r="0.6" stroke="none" stroke-width="0" fill="#999"/>
<line x1="286.9" y1="850.6" x2="286.9" y2="931.2" stroke="#2a2a2a" stroke-width="0.85" />
<line x1="347" y1="850.6" x2="347" y2="915.4" stroke="#2a2a2a" stroke-width="0.85" />
<line x1="286.9" y1="853.9" x2="347" y2="853.9" stroke="#2a2a2a" stroke-width="0.85" />
<path d="M286.9 853.9 L296.4 852.4 L296.4 855.4 Z" stroke="#000" stroke-width="0.3" fill="#000" />
<path d="M347 853.9 L337.5 852.4 L337.5 855.4 Z" stroke="#000" stroke-width="0.3" fill="#000" />
<path d="M314.6 851.9 L317.4 843.9 L320.2 851.9" stroke="#222" stroke-width="1.0" fill="none" stroke-linejoin="round"/>
<line x1="315.5" y1="849.6" x2="319.3" y2="849.6" stroke="#222" stroke-width="1.0" />
<line x1="317.6" y1="877" x2="317.6" y2="961.6" stroke="#222" stroke-width="0.75" stroke-dasharray="11 2 1.5 2"/>
<line x1="318" y1="880.5" x2="347" y2="880.5" stroke="#2a2a2a" stroke-width="0.85" />
<path d="M318 880.5 L326.5 879 L326.5 882 Z" stroke="#000" stroke-width="0.3" fill="#000" />
<path d="M347 880.5 L338.5 879 L338.5 882 Z" stroke="#000" stroke-width="0.3" fill="#000" />
<path d="M329.4 878 L329.4 869.4 L332.0 869.4 Q334.0 869.4 334.0 871.5 Q334.0 873.6 332.0 873.6 L329.4 873.6 M332.0 873.6 Q334.4 873.6 334.4 875.8 Q334.4 878 332.0 878 L329.4 878" stroke="#222" stroke-width="1.0" fill="none" />
<line x1="235.1" y1="900.3" x2="235.1" y2="915.2" stroke="#2a2a2a" stroke-width="0.85" />
<path d="M235.1 915.2 L233.6 906.2 L236.6 906.2 Z" stroke="#000" stroke-width="0.3" fill="#000" />
<line x1="235.1" y1="917.9" x2="235.1" y2="969.9" stroke="#2a2a2a" stroke-width="0.85" />
<path d="M235.1 917.9 L233.6 926.9 L236.6 926.9 Z" stroke="#000" stroke-width="0.3" fill="#000" />
<line x1="230.8" y1="915.2" x2="256.4" y2="915.2" stroke="#2a2a2a" stroke-width="0.85" />
<line x1="230.8" y1="917.9" x2="256.4" y2="917.9" stroke="#2a2a2a" stroke-width="0.85" />
<text x="233.6" y="969.8" font-size="13.6" fill="#333" text-anchor="start" font-weight="normal" textLength="41" lengthAdjust="spacingAndGlyphs" transform="rotate(-90 233.6 969.8)">Ts = 2</text>
<line x1="347.4" y1="915.6" x2="381.6" y2="915.6" stroke="#2a2a2a" stroke-width="0.85" />
<line x1="351" y1="949.1" x2="381.6" y2="949.1" stroke="#2a2a2a" stroke-width="0.85" />
<line x1="377.9" y1="915.6" x2="377.9" y2="949.1" stroke="#2a2a2a" stroke-width="0.85" />
<path d="M377.9 915.6 L376.4 924.6 L379.4 924.6 Z" stroke="#000" stroke-width="0.3" fill="#000" />
<path d="M377.9 949.1 L376.4 940.1 L379.4 940.1 Z" stroke="#000" stroke-width="0.3" fill="#000" />
<text x="376" y="939.4" font-size="13.6" fill="#333" text-anchor="start" font-weight="normal" textLength="13.2" lengthAdjust="spacingAndGlyphs" transform="rotate(-90 376 939.4)">25</text>
<path d="M262.8 962.2 L270 962.2 L262.6 974.6 L270.3 974.6" stroke="#000" stroke-width="1.6" fill="none" />
<text x="262.4" y="990.3" font-size="15" fill="#4a4a4a" text-anchor="start" font-weight="normal" textLength="14.4" lengthAdjust="spacingAndGlyphs">1:2</text>
<line x1="306.2" y1="895.5" x2="328.8" y2="895.5" stroke="#000" stroke-width="1.6" />
<rect x="300.6" y="896.7" width="33.9" height="2.3" rx="0" stroke="#000" stroke-width="0.95" fill="#fff"/>
<path d="M293.6 915 L293.6 904.0 Q293.6 899.2 298.4 899.2 L337.0 899.2 Q341.8 899.2 341.8 904.0 L341.8 915" stroke="#000" stroke-width="1.6" fill="#fff" />
<path d="M300.6 896.6 Q299.2 897.6 298.6 899 M334.8 896.6 Q336.4 897.6 337 899" stroke="#000" stroke-width="0.9" fill="none" />
<line x1="298.4" y1="899.6" x2="298.4" y2="911.8" stroke="#000" stroke-width="0.9" />
<line x1="336.6" y1="899.6" x2="336.6" y2="911.8" stroke="#000" stroke-width="0.9" />
<line x1="296.8" y1="901" x2="296.8" y2="911.8" stroke="#777" stroke-width="0.6" />
<line x1="338.4" y1="901" x2="338.4" y2="911.8" stroke="#777" stroke-width="0.6" />
<path d="M293.8 914.4 L296.2 912.2 L339.0 912.2 L341.6 914.4" stroke="#000" stroke-width="1.4" fill="none" />
<path d="M256 916.8 L253.3 930.1 L261.8 945 L299 945" stroke="#000" stroke-width="1.6" fill="none" stroke-linejoin="round"/>
<path d="M255.4 917.0 L345.6 917.0 L345.6 944.8" stroke="#000" stroke-width="3.2" fill="none" stroke-linejoin="round" stroke-linecap="butt"/>
<path d="M255.4 917.0 L345.6 917.0 L345.6 944.8" stroke="#fff" stroke-width="1.4000000000000001" fill="none" stroke-linejoin="round" stroke-dasharray="1.7 0.9"/>
<line x1="342.6" y1="944.4" x2="347.2" y2="944.4" stroke="#000" stroke-width="1.0" />
<rect x="295.2" y="922.4" width="46.4" height="20.6" rx="0" stroke="#000" stroke-width="1.1" fill="#fff"/>
<rect x="296.4" y="924.2" width="4.2" height="17" rx="0" stroke="#000" stroke-width="0.9" fill="#fff"/>
<line x1="299.4" y1="924" x2="299.4" y2="941.4" stroke="#000" stroke-width="1.6" />
<rect x="337" y="924.6" width="3.6" height="16.4" rx="0" stroke="#000" stroke-width="0.9" fill="#ccc"/>
<rect x="334.6" y="923" width="2" height="19.4" rx="0" stroke="#000" stroke-width="0.8" fill="#fff"/>
<path d="M300.6 919 L300.6 944.0 L334.4 944.0 L334.4 919" stroke="#000" stroke-width="1.8" fill="#fff" />
<line x1="300.6" y1="941.6" x2="334.4" y2="941.6" stroke="#222" stroke-width="2.4" />
<rect x="302.4" y="919.4" width="3.2" height="22" rx="0" stroke="#000" stroke-width="0.9" fill="#fff"/>
<rect x="329.4" y="919.4" width="3.4" height="22" rx="0" stroke="none" stroke-width="0" fill="#333"/>
<line x1="330.2" y1="920" x2="330.2" y2="941" stroke="#bbb" stroke-width="0.6" stroke-dasharray="1 1"/>
<rect x="307.6" y="919.6" width="20.2" height="8" rx="0" stroke="#000" stroke-width="1.0" fill="#fff"/>
<path d="M305.8 928 L309.0 938.8 L326.4 938.8 L329.2 928" stroke="#000" stroke-width="1.2" fill="#fff" />
<path d="M309.6 928.4 Q317.6 934.6 325.6 928.4 Z" stroke="#000" stroke-width="0.8" fill="#444" />
<line x1="312.6" y1="929" x2="311" y2="938" stroke="#000" stroke-width="1.0" />
<line x1="322.8" y1="929" x2="324.6" y2="938" stroke="#000" stroke-width="1.0" />
<line x1="308.4" y1="939.6" x2="327.2" y2="939.6" stroke="#555" stroke-width="1.0" />
<path d="M306.6 930 L308.2 936" stroke="#000" stroke-width="2.0" fill="none" />
<path d="M328.6 930 L327 936" stroke="#000" stroke-width="2.0" fill="none" />
<rect x="302.2" y="944.6" width="2.4" height="3.6" rx="0" stroke="#000" stroke-width="0.7" fill="#fff"/>
<rect x="330.6" y="944.6" width="2.4" height="3.6" rx="0" stroke="#000" stroke-width="0.7" fill="#fff"/>
<line x1="317.6" y1="877" x2="317.6" y2="961.6" stroke="#222" stroke-width="0.75" stroke-dasharray="11 2 1.5 2"/>
<path d="M286.0 931.4 L286.0 947.4 Q286.0 950.0 288.6 950.0 L349.4 950.0 L349.4 981.6" stroke="#000" stroke-width="3.2" fill="none" stroke-linejoin="round" stroke-linecap="butt"/>
<path d="M286.0 931.4 L286.0 947.4 Q286.0 950.0 288.6 950.0 L349.4 950.0 L349.4 981.6" stroke="#fff" stroke-width="1.4000000000000001" fill="none" stroke-linejoin="round" stroke-dasharray="1.7 0.9"/>
<path d="M284.6 931.6 Q286 930.2 287.4 931.6" stroke="#000" stroke-width="1.0" fill="none" />
<path d="M348 981.4 Q349.4 983.4 350.8 981.4" stroke="#000" stroke-width="1.2" fill="none" />
</svg></body></html>
